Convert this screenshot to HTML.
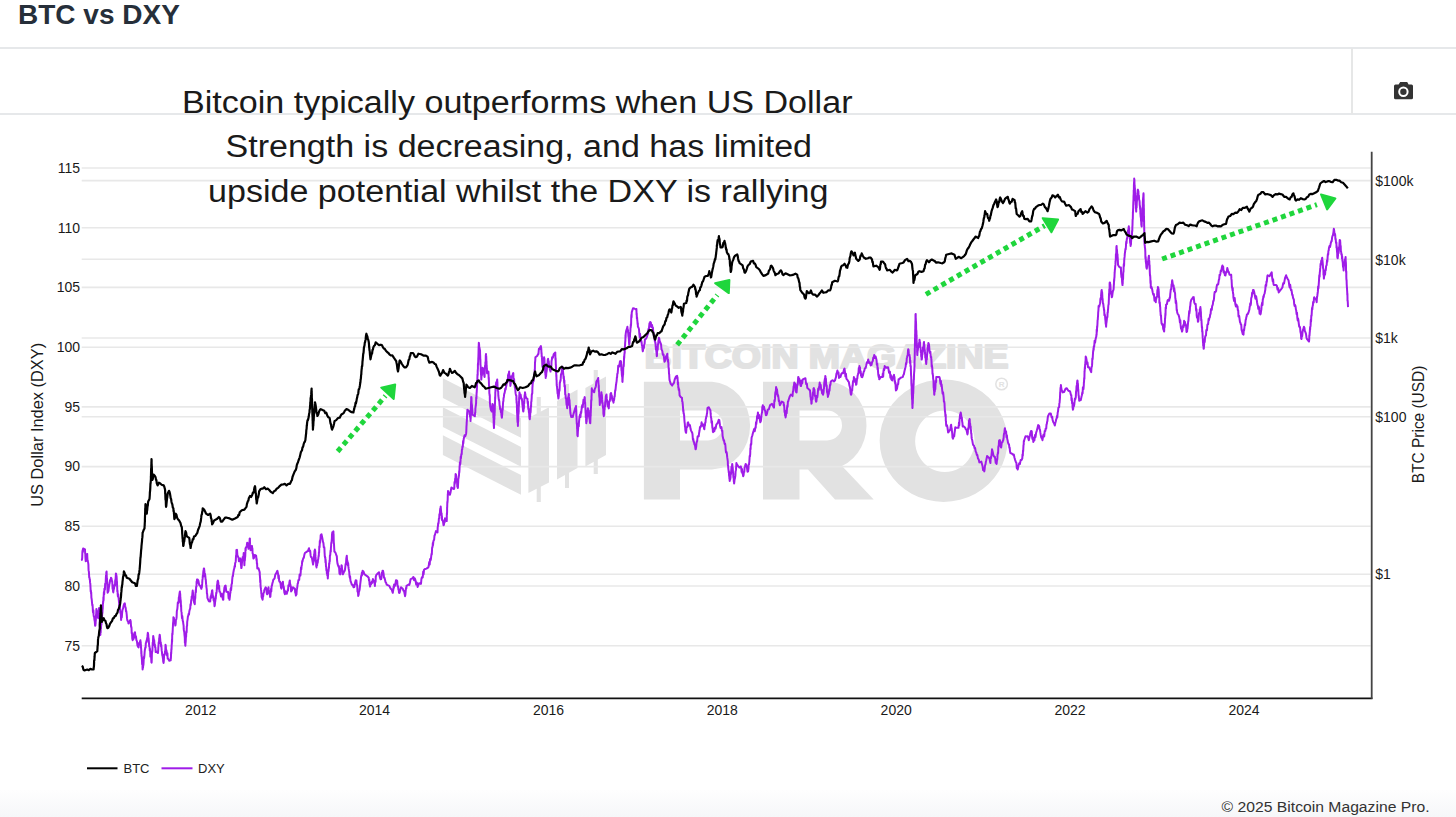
<!DOCTYPE html>
<html><head><meta charset="utf-8">
<style>
html,body{margin:0;padding:0;background:#fff;}
body{width:1456px;height:817px;position:relative;overflow:hidden;font-family:"Liberation Sans",sans-serif;}
.title{position:absolute;left:18px;top:-1.5px;font-size:28px;font-weight:bold;color:#262f3a;}
.hl{position:absolute;left:0;width:1456px;height:2px;background:#e6e8ea;}
.vl{position:absolute;width:1px;background:#e6e8ea;}
.foot{position:absolute;left:0;top:790px;width:1456px;height:27px;background:linear-gradient(#fefefe,#f6f7f9);}
.foot span{position:absolute;right:26px;top:-6px;font-size:16px;color:#333;}
.note{position:absolute;left:119px;top:83px;width:800px;text-align:center;font-size:31px;line-height:44.2px;color:#1a1a1a;}
svg{position:absolute;left:0;top:0;}
</style></head><body>
<div class="title">BTC vs DXY</div>
<div class="hl" style="top:47px"></div>
<div class="hl" style="top:113px"></div>
<div class="vl" style="left:1351px;top:48px;height:66px;width:2px;background:#e6e7e7"></div>
<div class="foot"></div>
<svg width="1456" height="817" viewBox="0 0 1456 817">
<path fill="#333" d="M1395.5 84.4 H1398.6 L1400.2 82 H1407.2 L1408.6 84.4 H1411.5 A1.5 1.5 0 0 1 1413 85.9 V97.8 A1.5 1.5 0 0 1 1411.5 99.3 H1395.5 A1.5 1.5 0 0 1 1394 97.8 V85.9 A1.5 1.5 0 0 1 1395.5 84.4 Z"/>
<circle cx="1403.4" cy="91.8" r="4.2" fill="none" stroke="#fff" stroke-width="2"/>
<g fill="#e2e2e2">
<polygon points="442.9,378.3 521,418 521,437.8 442.9,398.1"/>
<polygon points="442.9,407.2 521,446.9 521,466.7 442.9,427"/>
<polygon points="442.9,435.3 521,475 521,494.8 442.9,455.1"/>
<polygon points="528.4,417.9 549,407.2 549,482.4 528.4,493.1"/>
<rect x="536.7" y="397" width="4.1" height="105"/>
<polygon points="557,401 577.5,389.5 577.5,468 557,479.5"/>
<rect x="565" y="384" width="4" height="104"/>
<polygon points="585.4,388 606,376.5 606,455 585.4,466.5"/>
<rect x="593.7" y="370" width="4.1" height="104"/>
</g>
<text x="644.5" y="367.8" fill="#e2e2e2" stroke="#e2e2e2" stroke-width="2.2" stroke-linejoin="round" font-size="34" font-weight="bold" textLength="364" lengthAdjust="spacingAndGlyphs">BITCOIN MAGAZINE</text>
<g fill="#e2e2e2" fill-rule="evenodd">
<path d="M643.9 381.7 H712 A40 44 0 0 1 712 469.6 H680 V499.6 H643.9 Z M680 410.4 H708 A15 15 0 0 1 708 440.4 H680 Z"/>
<path d="M763 381.7 H831 A40 44 0 0 1 842 466 L873.7 499.6 H835 L808 469.6 H799.5 V499.6 H763 Z M799.5 410.4 H827 A15 15 0 0 1 827 440.4 H799.5 Z"/>
<path d="M943.6 379.5 A63.9 61.2 0 1 1 943.5 379.5 Z M944.8 410.4 A29.7 30.8 0 1 0 944.9 410.4 Z"/>
</g>
<circle cx="1001.6" cy="384" r="5.8" fill="none" stroke="#e2e2e2" stroke-width="1.5"/>
<text x="1001.6" y="387" fill="#e2e2e2" font-size="8" font-weight="bold" text-anchor="middle">R</text>

<g stroke="#e8e8e8" stroke-width="1.6"><line x1="81.7" y1="168.0" x2="1370.5" y2="168.0"/><line x1="81.7" y1="227.7" x2="1370.5" y2="227.7"/><line x1="81.7" y1="287.4" x2="1370.5" y2="287.4"/><line x1="81.7" y1="347.2" x2="1370.5" y2="347.2"/><line x1="81.7" y1="406.9" x2="1370.5" y2="406.9"/><line x1="81.7" y1="466.6" x2="1370.5" y2="466.6"/><line x1="81.7" y1="526.3" x2="1370.5" y2="526.3"/><line x1="81.7" y1="586.0" x2="1370.5" y2="586.0"/><line x1="81.7" y1="645.8" x2="1370.5" y2="645.8"/><line x1="81.7" y1="180.6" x2="1370.5" y2="180.6"/><line x1="81.7" y1="259.3" x2="1370.5" y2="259.3"/><line x1="81.7" y1="338.0" x2="1370.5" y2="338.0"/><line x1="81.7" y1="416.8" x2="1370.5" y2="416.8"/><line x1="81.7" y1="574.2" x2="1370.5" y2="574.2"/></g>
<path d="M81.7 559.4 L81.9 559.9 L82.2 558.0 L82.4 551.6 L82.7 549.9 L82.9 551.9 L83.1 548.4 L85.0 549.3 L85.1 552.2 L85.2 553.6 L85.3 553.4 L85.4 556.6 L85.5 558.4 L85.6 559.9 L85.7 561.2 L86.1 557.6 L86.4 557.2 L86.8 555.2 L87.2 553.9 L87.3 556.7 L87.5 559.7 L87.6 561.2 L87.8 560.7 L87.9 561.8 L88.1 562.6 L88.2 563.0 L88.4 564.6 L88.5 568.6 L88.6 570.4 L88.8 571.1 L89.0 573.1 L89.2 577.5 L89.4 577.3 L89.6 579.1 L89.8 579.1 L89.9 579.7 L90.1 582.9 L90.3 583.6 L90.5 587.3 L90.7 591.5 L90.9 590.6 L91.0 593.1 L91.2 592.2 L91.4 597.6 L91.6 598.7 L91.8 600.1 L92.0 602.6 L92.1 603.5 L92.3 605.3 L92.5 604.7 L92.7 607.1 L92.9 611.2 L93.1 612.7 L93.4 610.2 L93.6 614.9 L93.8 616.3 L94.1 616.5 L94.3 618.5 L94.5 620.0 L94.8 621.7 L95.1 625.8 L95.4 625.5 L95.5 623.8 L95.6 623.9 L95.7 619.8 L95.8 620.9 L95.9 619.3 L96.0 615.4 L96.1 614.3 L96.2 614.4 L96.3 611.8 L96.4 608.9 L96.7 610.7 L97.1 611.2 L97.5 613.5 L97.8 617.3 L98.2 618.1 L98.3 614.7 L98.5 616.9 L98.7 611.9 L98.8 613.5 L99.0 608.7 L99.1 608.0 L99.2 612.1 L99.3 612.4 L99.4 613.0 L99.4 614.8 L99.5 617.1 L99.6 618.5 L99.7 618.7 L99.8 619.8 L99.8 623.1 L99.9 626.9 L100.0 627.0 L100.1 625.8 L100.2 631.3 L100.2 632.5 L100.3 635.1 L100.4 634.7 L100.5 631.4 L100.7 632.6 L100.8 627.4 L101.0 628.8 L101.1 625.2 L101.3 623.3 L101.4 625.0 L101.6 619.4 L101.7 619.9 L101.9 618.1 L102.0 618.3 L102.2 613.4 L102.3 611.5 L102.4 613.3 L102.6 609.3 L102.7 609.1 L102.9 603.8 L103.0 603.9 L103.1 601.2 L103.3 602.1 L103.4 597.3 L103.6 600.2 L103.7 596.1 L103.9 592.0 L104.2 594.1 L104.4 588.8 L104.6 588.4 L104.9 589.7 L105.1 584.7 L105.3 583.2 L105.5 583.2 L105.7 582.4 L105.8 579.0 L106.0 575.4 L106.2 578.4 L106.3 572.3 L106.5 572.2 L106.6 571.5 L106.7 574.8 L106.8 577.9 L106.9 580.2 L107.0 578.6 L107.1 581.5 L107.2 581.6 L107.3 585.4 L107.4 588.8 L107.5 590.3 L107.6 592.8 L107.7 592.4 L108.1 591.9 L108.5 590.6 L108.8 588.0 L109.2 585.1 L109.7 583.1 L110.1 580.0 L110.6 580.4 L111.0 577.7 L111.5 578.6 L112.0 581.4 L112.2 581.2 L112.4 584.8 L112.6 588.9 L112.8 586.8 L113.0 591.0 L113.3 592.4 L113.6 590.0 L114.0 588.8 L114.4 585.1 L114.7 585.1 L115.0 585.6 L115.2 580.2 L115.5 580.1 L115.7 577.3 L115.9 573.4 L116.2 574.1 L116.3 576.0 L116.4 575.5 L116.6 576.7 L116.7 578.2 L116.8 580.6 L117.0 581.9 L117.1 586.3 L117.2 587.3 L117.3 591.4 L117.5 590.6 L117.7 594.5 L117.9 596.5 L118.2 594.2 L118.4 597.0 L118.6 597.7 L118.9 601.2 L119.1 603.0 L119.3 605.6 L119.5 606.8 L119.8 606.2 L120.0 608.7 L120.2 610.8 L120.4 612.8 L120.6 611.9 L120.8 613.9 L121.0 617.7 L121.1 620.0 L121.5 616.1 L121.8 617.5 L122.1 613.1 L122.4 610.5 L122.7 609.1 L123.0 608.9 L123.6 605.7 L124.2 603.8 L124.8 603.4 L125.1 605.4 L125.4 606.9 L125.7 608.0 L126.0 611.5 L126.3 611.1 L126.7 614.5 L127.0 618.4 L127.4 620.5 L127.8 621.2 L128.1 621.5 L128.5 623.6 L129.4 621.9 L130.3 620.0 L130.5 622.1 L130.7 621.0 L130.9 624.6 L131.1 626.8 L131.3 626.7 L131.5 627.9 L131.7 633.3 L131.9 632.7 L132.1 635.2 L132.3 639.0 L132.5 639.1 L132.7 640.2 L133.2 637.2 L133.6 639.0 L134.1 634.0 L134.5 632.8 L135.0 632.2 L135.5 637.5 L135.9 636.2 L136.4 640.2 L136.9 641.0 L137.5 645.6 L138.0 646.6 L138.6 647.5 L139.0 643.1 L139.5 643.6 L140.0 641.5 L140.4 640.2 L140.5 641.7 L140.7 641.9 L140.8 645.5 L140.9 644.5 L141.0 647.2 L141.2 649.3 L141.3 653.8 L141.4 651.0 L141.5 656.2 L141.6 654.9 L141.8 658.5 L141.9 659.2 L142.0 661.2 L142.1 664.3 L142.3 664.1 L142.4 664.3 L142.5 665.9 L142.6 669.5 L142.8 665.7 L143.0 668.0 L143.2 665.2 L143.4 665.2 L143.6 662.1 L143.8 657.0 L144.0 658.6 L144.2 657.5 L144.4 655.6 L144.6 652.7 L144.8 650.3 L145.0 649.3 L145.3 647.5 L145.6 647.6 L145.8 643.2 L146.1 642.9 L146.4 641.0 L146.7 641.8 L146.9 639.4 L147.2 638.4 L147.5 636.2 L147.8 632.8 L148.0 633.4 L148.2 634.7 L148.4 637.7 L148.6 638.1 L148.8 640.6 L149.0 643.5 L149.2 646.4 L149.4 646.3 L149.6 647.5 L149.8 650.8 L150.0 648.7 L150.2 651.7 L150.4 656.6 L150.6 653.8 L150.8 656.9 L151.0 656.7 L151.2 658.4 L151.4 662.2 L151.6 662.6 L151.7 661.5 L151.8 658.1 L151.9 653.8 L152.0 653.1 L152.1 651.2 L152.2 651.8 L152.4 650.3 L152.5 647.4 L152.6 646.3 L152.7 642.5 L152.8 643.1 L152.9 643.6 L153.0 641.0 L153.2 636.0 L153.3 636.5 L153.6 638.2 L153.9 640.9 L154.2 640.1 L154.5 645.1 L154.8 644.4 L155.1 647.3 L155.4 647.4 L155.7 652.1 L156.0 651.2 L157.9 653.0 L158.0 652.8 L158.2 650.1 L158.4 646.2 L158.5 646.0 L158.7 642.2 L158.9 643.5 L159.0 643.3 L159.2 638.0 L159.4 638.0 L159.5 636.2 L159.7 634.7 L159.9 635.8 L160.2 639.0 L160.4 641.7 L160.6 642.1 L160.8 642.5 L161.1 646.7 L161.3 645.0 L161.5 647.5 L161.7 650.4 L161.9 651.6 L162.1 653.8 L162.4 655.9 L162.6 654.2 L162.8 657.9 L163.0 658.4 L163.2 661.4 L163.4 662.2 L163.6 663.0 L163.9 659.6 L164.1 654.7 L164.3 655.4 L164.6 655.0 L164.8 654.3 L165.0 651.4 L165.3 650.6 L165.5 644.8 L165.8 645.7 L166.0 649.6 L166.3 650.1 L166.6 651.0 L166.9 654.2 L167.1 655.7 L167.4 653.2 L167.7 658.6 L168.0 658.5 L169.3 660.8 L170.7 660.4 L170.8 657.2 L170.9 658.4 L171.0 655.9 L171.1 652.3 L171.2 653.8 L171.4 648.7 L171.5 649.6 L171.6 647.0 L171.7 644.5 L171.8 644.5 L171.9 642.3 L172.0 639.3 L172.1 641.7 L172.2 635.4 L172.3 633.4 L172.4 634.3 L172.5 634.5 L172.6 631.9 L172.7 630.8 L172.8 627.8 L172.9 627.2 L173.0 623.8 L173.2 621.8 L173.3 621.4 L173.4 617.3 L173.5 618.1 L173.9 617.8 L174.4 623.1 L174.8 621.9 L175.3 625.5 L175.5 625.1 L175.7 623.6 L175.9 619.9 L176.2 619.6 L176.4 618.5 L176.6 617.2 L176.8 611.7 L177.0 610.2 L177.2 609.6 L177.4 608.3 L177.6 605.8 L177.8 602.6 L178.1 603.4 L178.3 602.0 L178.6 602.5 L178.8 597.6 L179.1 596.8 L179.4 594.3 L179.6 592.9 L179.9 591.5 L180.0 595.1 L180.2 593.8 L180.3 597.2 L180.4 598.0 L180.6 599.9 L180.7 603.5 L180.8 600.8 L180.9 606.3 L181.1 605.2 L181.2 608.7 L181.3 611.1 L181.5 612.0 L181.6 612.3 L181.7 614.5 L182.0 618.1 L182.3 616.0 L182.7 620.7 L183.0 621.2 L183.3 623.8 L183.6 625.5 L183.7 629.0 L183.9 630.4 L184.0 631.2 L184.2 631.2 L184.3 632.5 L184.5 635.3 L184.6 635.9 L184.8 637.8 L184.9 643.0 L185.1 640.3 L185.3 645.6 L185.4 645.7 L185.5 643.3 L185.7 641.6 L185.8 639.6 L185.9 636.7 L186.1 636.9 L186.2 633.7 L186.3 633.4 L186.5 630.9 L186.6 632.4 L186.7 630.8 L186.8 626.6 L187.0 625.9 L187.1 625.7 L187.2 621.8 L187.6 619.3 L187.9 616.5 L188.3 615.6 L188.6 613.8 L189.0 614.7 L189.3 611.5 L189.7 609.8 L190.0 608.9 L190.2 608.8 L190.5 604.2 L190.7 605.5 L191.0 603.0 L191.2 600.1 L191.5 600.6 L191.7 596.4 L192.0 597.6 L192.2 596.1 L192.5 592.3 L192.7 590.6 L193.0 593.2 L193.2 596.1 L193.4 596.7 L193.7 598.3 L193.9 600.5 L194.1 602.5 L194.4 603.2 L194.6 603.4 L194.8 604.2 L194.9 598.9 L195.1 599.0 L195.3 597.5 L195.4 594.2 L195.6 592.7 L195.8 589.8 L195.9 592.2 L196.1 587.3 L196.3 586.3 L196.5 586.7 L196.6 581.4 L196.8 583.7 L197.0 579.6 L197.7 579.5 L198.4 580.8 L199.2 585.1 L200.3 586.1 L201.4 588.8 L201.6 586.3 L201.8 587.6 L202.0 585.7 L202.2 583.4 L202.4 580.0 L202.6 578.9 L202.8 575.6 L203.0 577.0 L203.2 573.0 L203.4 570.8 L203.6 571.0 L203.8 568.6 L204.1 568.6 L204.4 571.3 L204.7 576.3 L205.0 573.8 L205.3 575.9 L205.6 579.6 L205.8 579.7 L205.9 581.6 L206.1 584.2 L206.3 584.9 L206.4 587.1 L206.6 588.3 L206.8 589.9 L206.9 593.5 L207.1 593.7 L207.3 595.6 L207.4 597.9 L208.8 601.2 L210.2 601.6 L210.5 597.5 L210.8 596.1 L211.1 597.9 L211.4 593.9 L211.7 593.9 L212.0 590.6 L212.3 590.3 L212.6 594.0 L212.9 597.3 L213.3 596.3 L213.6 600.1 L213.9 601.0 L214.2 601.5 L214.5 606.2 L214.8 605.3 L215.0 603.1 L215.1 602.0 L215.3 601.1 L215.5 598.0 L215.7 599.1 L215.9 596.2 L216.1 594.6 L216.2 592.7 L216.4 593.5 L216.6 591.9 L216.8 589.5 L217.0 585.9 L217.2 584.1 L217.4 583.1 L217.5 581.4 L217.9 580.6 L218.3 582.5 L218.7 588.7 L219.1 585.8 L219.5 591.6 L219.9 591.8 L220.3 592.4 L221.0 596.4 L221.7 593.9 L222.4 596.9 L223.0 599.8 L223.3 599.6 L223.5 593.8 L223.7 592.6 L224.0 592.1 L224.2 589.5 L224.4 587.6 L224.6 588.6 L224.9 586.0 L225.6 585.5 L226.3 591.7 L226.9 591.6 L227.6 592.4 L228.1 591.9 L228.6 598.2 L229.0 596.6 L229.5 599.8 L229.7 598.0 L229.9 596.7 L230.2 592.8 L230.4 593.0 L230.6 589.1 L230.8 588.1 L231.1 590.2 L231.3 588.0 L231.5 584.7 L231.8 583.9 L232.0 583.2 L232.2 579.6 L232.6 576.1 L232.9 576.3 L233.3 572.8 L233.6 571.2 L233.9 569.5 L234.3 568.4 L234.6 566.0 L235.0 566.7 L235.1 563.6 L235.3 562.8 L235.5 562.4 L235.6 562.0 L235.8 560.6 L235.9 558.0 L236.1 555.2 L236.3 555.7 L236.4 550.1 L236.6 550.2 L237.0 549.9 L237.4 555.3 L237.8 556.0 L238.2 557.1 L238.6 557.6 L238.9 561.2 L240.3 558.5 L240.5 559.4 L240.6 560.6 L240.8 562.9 L240.9 564.5 L241.1 565.9 L241.3 568.1 L241.5 568.0 L241.7 566.4 L241.9 563.5 L242.1 561.3 L242.4 559.8 L242.7 557.0 L243.0 557.8 L243.4 557.2 L243.7 553.0 L243.8 553.3 L243.9 557.6 L244.0 559.3 L244.1 560.9 L244.2 559.4 L244.3 563.8 L244.4 565.3 L244.5 562.2 L244.7 560.5 L244.8 560.9 L244.9 559.6 L245.0 557.9 L245.2 556.8 L245.3 555.0 L245.4 552.2 L245.5 548.4 L245.7 550.5 L245.8 547.5 L246.3 547.5 L246.7 546.0 L247.2 542.7 L247.6 545.2 L248.1 544.4 L248.5 548.8 L248.8 545.5 L249.0 543.4 L249.2 544.4 L249.5 542.2 L249.7 538.6 L249.9 538.5 L250.0 542.6 L250.1 544.4 L250.2 545.6 L250.3 545.0 L250.4 545.8 L250.5 547.0 L250.6 550.2 L251.3 549.8 L252.0 546.1 L252.2 548.9 L252.4 548.5 L252.6 553.5 L252.8 553.5 L253.0 554.5 L253.2 556.3 L253.4 558.5 L254.0 557.9 L254.7 555.0 L256.1 555.7 L256.3 557.2 L256.5 560.1 L256.7 559.0 L256.9 563.8 L257.1 563.4 L257.3 568.4 L257.5 568.1 L258.5 568.3 L259.5 571.5 L259.7 572.3 L259.8 575.1 L259.9 576.0 L260.1 578.4 L260.2 582.2 L260.4 580.1 L260.5 584.8 L260.6 586.1 L260.8 588.2 L260.9 588.2 L261.0 589.9 L261.2 591.0 L261.3 593.4 L261.5 594.0 L261.6 596.9 L262.6 599.7 L262.9 596.5 L263.2 596.3 L263.4 593.3 L263.7 593.1 L264.0 592.0 L264.3 590.1 L265.7 587.3 L266.1 588.0 L266.4 589.0 L266.7 593.0 L267.1 594.2 L267.4 594.3 L267.8 589.3 L268.1 589.6 L268.5 587.3 L268.7 589.7 L269.0 592.5 L269.3 593.1 L269.6 592.7 L269.8 593.8 L270.1 596.9 L270.4 596.8 L270.7 592.2 L271.0 588.9 L271.3 591.5 L271.6 586.2 L271.9 585.9 L272.4 583.2 L272.9 581.6 L273.4 579.5 L274.0 579.1 L274.6 578.4 L275.3 574.6 L276.0 573.6 L277.4 570.8 L277.7 572.3 L278.1 574.1 L278.4 578.1 L278.8 575.6 L279.1 580.4 L279.5 581.8 L280.0 581.6 L280.5 583.4 L281.0 587.5 L281.5 588.7 L281.9 586.3 L282.2 583.0 L282.5 584.0 L282.9 581.8 L283.2 585.7 L283.5 586.1 L283.8 587.1 L284.1 590.4 L284.4 592.8 L284.7 590.6 L284.9 594.2 L285.9 591.8 L286.8 593.8 L287.7 590.1 L288.0 590.7 L288.4 585.3 L288.7 586.3 L289.1 585.6 L289.4 582.5 L289.8 580.4 L290.0 583.3 L290.2 584.2 L290.4 584.6 L290.7 586.3 L290.9 587.3 L291.1 591.4 L292.0 590.2 L292.9 587.3 L294.6 588.7 L294.9 588.5 L295.2 592.7 L295.6 593.3 L295.9 595.5 L296.2 593.5 L296.5 594.5 L296.8 589.7 L297.1 588.4 L297.4 586.1 L297.7 583.5 L298.0 583.2 L298.4 580.1 L298.8 580.1 L299.2 579.9 L299.6 574.5 L300.1 574.9 L300.4 575.6 L300.7 572.5 L301.0 567.6 L301.3 569.3 L301.6 566.0 L301.9 564.9 L302.2 561.1 L302.5 561.6 L302.8 559.8 L303.3 558.2 L303.8 557.9 L304.3 555.1 L304.9 553.0 L306.9 551.6 L308.0 550.9 L309.0 548.2 L309.4 551.2 L309.8 550.3 L310.2 551.0 L310.6 555.2 L311.0 557.1 L311.6 557.0 L312.1 559.0 L312.6 561.8 L313.1 564.6 L313.3 563.2 L313.5 561.9 L313.7 560.4 L313.9 560.2 L314.1 554.2 L314.3 554.9 L314.5 550.7 L314.7 552.1 L314.9 549.5 L315.0 550.8 L315.2 550.9 L315.3 553.4 L315.5 556.9 L315.6 557.5 L315.8 561.6 L315.9 560.1 L316.1 561.7 L316.2 566.3 L316.4 566.3 L316.5 567.4 L316.8 563.7 L317.1 565.5 L317.4 561.7 L317.7 563.0 L318.0 559.8 L318.3 559.0 L318.6 555.7 L318.8 556.1 L318.9 552.3 L319.1 553.0 L319.3 546.4 L319.5 546.3 L319.6 547.2 L319.8 541.1 L320.0 542.9 L320.1 542.9 L320.3 539.7 L320.5 538.7 L320.7 535.1 L321.5 534.3 L322.3 537.9 L322.6 539.7 L322.9 541.6 L323.2 542.3 L323.5 543.8 L323.8 547.4 L324.1 547.5 L324.3 547.3 L324.4 548.3 L324.6 552.8 L324.8 556.3 L325.0 557.2 L325.1 558.0 L325.3 557.6 L325.5 562.4 L325.6 559.5 L325.8 562.2 L326.0 566.6 L326.2 566.7 L326.4 570.4 L326.6 569.5 L326.9 573.8 L327.1 571.4 L327.3 575.5 L327.6 574.5 L327.8 578.4 L328.0 575.4 L328.1 573.6 L328.3 571.0 L328.5 571.5 L328.6 570.4 L328.8 567.6 L329.0 567.9 L329.1 563.2 L329.3 564.0 L329.5 562.5 L329.6 560.2 L329.8 561.3 L329.9 555.6 L330.1 555.6 L330.3 554.3 L330.4 552.4 L330.6 550.3 L330.8 551.7 L330.9 548.0 L331.1 546.0 L331.2 543.9 L331.4 542.2 L331.5 543.2 L331.7 540.7 L331.9 538.2 L332.0 534.0 L332.2 534.5 L332.3 532.4 L333.3 531.7 L333.4 531.4 L333.5 534.2 L333.6 534.2 L333.7 539.4 L333.8 542.5 L333.8 542.4 L333.9 543.7 L334.0 543.7 L334.1 546.3 L334.2 548.1 L334.3 549.5 L334.4 551.6 L335.4 552.5 L336.5 555.7 L336.8 556.1 L337.1 560.7 L337.5 563.6 L337.8 564.7 L338.2 565.5 L338.5 566.7 L338.9 566.0 L339.2 569.1 L339.5 573.6 L339.9 573.6 L340.2 574.4 L340.5 570.5 L340.9 569.0 L341.2 567.9 L341.5 565.3 L341.8 565.8 L342.1 570.0 L342.4 570.0 L342.6 574.3 L342.9 574.3 L343.8 572.3 L344.7 570.8 L344.9 570.0 L345.2 567.8 L345.4 566.0 L345.6 563.9 L345.8 564.8 L346.1 562.1 L346.3 558.7 L346.5 557.4 L346.8 555.7 L347.0 559.6 L347.3 560.7 L347.6 562.0 L347.9 565.4 L348.1 562.9 L348.4 566.7 L348.7 568.9 L349.0 570.7 L349.2 571.5 L349.5 575.8 L349.8 577.5 L350.1 576.2 L350.3 579.1 L350.6 581.5 L350.9 581.8 L351.8 584.7 L352.7 584.8 L353.6 587.3 L354.3 587.1 L355.0 583.1 L355.7 580.3 L356.4 580.4 L356.6 583.0 L356.8 584.6 L357.1 585.0 L357.3 587.1 L357.5 591.4 L357.7 592.1 L358.0 591.7 L358.2 596.0 L358.4 595.5 L358.7 594.2 L358.9 591.6 L359.2 591.2 L359.5 590.2 L359.7 589.0 L360.0 586.1 L360.2 584.4 L360.5 581.8 L360.8 579.5 L361.2 575.8 L361.5 576.1 L361.9 572.5 L362.2 575.0 L362.6 570.8 L363.5 571.5 L364.4 574.1 L365.3 574.9 L367.4 576.3 L368.7 577.7 L369.0 580.7 L369.3 579.6 L369.6 584.8 L369.8 583.9 L370.1 586.6 L370.7 582.9 L371.2 584.1 L371.8 581.6 L372.3 582.8 L372.9 579.1 L373.4 580.5 L373.9 580.4 L374.4 581.7 L374.9 585.9 L375.1 581.7 L375.4 582.2 L375.6 581.6 L375.8 576.3 L376.1 575.9 L376.3 574.9 L377.7 573.5 L379.0 572.2 L379.6 576.0 L380.1 578.1 L380.6 579.3 L381.1 579.1 L381.4 578.1 L381.6 576.2 L381.9 572.7 L382.2 573.1 L382.5 570.8 L383.0 570.8 L383.5 573.2 L384.0 577.7 L384.5 577.7 L385.0 579.8 L385.6 582.3 L386.1 582.7 L386.6 584.6 L389.3 585.9 L390.7 588.7 L391.7 589.6 L392.8 592.8 L393.0 591.2 L393.3 589.9 L393.6 586.5 L393.9 588.0 L394.1 584.6 L395.1 585.7 L396.0 580.2 L396.9 580.4 L397.2 580.9 L397.5 585.6 L397.8 586.9 L398.1 586.1 L398.4 589.7 L398.7 589.7 L399.0 592.8 L399.6 592.9 L400.3 589.6 L401.0 587.3 L402.8 588.7 L403.4 590.6 L404.0 590.7 L404.6 593.9 L405.1 596.2 L405.4 594.4 L405.6 592.1 L405.8 589.4 L406.1 587.8 L406.3 588.7 L406.5 585.9 L408.6 584.6 L409.3 584.9 L409.9 582.7 L410.6 579.1 L412.0 578.6 L413.4 577.0 L414.1 580.2 L414.8 578.4 L415.5 580.4 L416.2 584.6 L416.9 582.6 L417.6 586.9 L419.1 583.2 L420.6 583.9 L421.0 583.8 L421.4 579.1 L421.9 577.4 L422.3 576.9 L422.7 577.5 L423.2 571.6 L423.6 574.5 L424.0 569.9 L424.5 569.3 L426.4 568.6 L428.4 567.3 L428.8 565.5 L429.2 562.0 L429.7 564.6 L430.1 558.9 L430.5 560.5 L430.9 559.2 L431.3 555.5 L431.6 553.6 L431.8 554.5 L432.1 548.1 L432.3 546.9 L432.6 546.9 L432.8 543.1 L433.0 545.2 L433.3 541.8 L433.7 540.3 L434.1 540.0 L434.5 535.6 L434.9 535.0 L436.0 531.1 L437.2 532.0 L437.5 532.4 L437.7 527.1 L437.9 526.5 L438.2 523.2 L438.4 523.9 L438.7 521.6 L438.9 518.5 L439.2 518.3 L439.4 514.3 L439.6 514.1 L439.8 514.8 L440.1 509.8 L440.3 508.5 L440.5 508.9 L440.7 506.6 L440.9 509.0 L441.1 511.6 L441.2 512.5 L441.4 515.3 L441.6 513.4 L441.8 519.1 L441.9 516.1 L442.1 520.3 L442.6 519.9 L443.0 521.5 L443.5 525.2 L443.9 524.9 L444.3 521.8 L444.7 522.2 L445.0 518.3 L446.6 520.3 L446.7 521.1 L446.8 519.4 L446.8 516.0 L446.9 513.0 L447.0 514.5 L447.1 511.7 L447.1 507.3 L447.2 507.5 L447.3 503.1 L447.4 501.5 L447.4 503.1 L447.5 501.9 L447.6 501.0 L447.7 498.8 L447.8 493.9 L447.8 495.4 L447.9 495.1 L448.0 490.9 L449.0 493.8 L449.9 494.8 L450.4 493.0 L450.9 490.3 L451.4 487.4 L451.9 488.0 L453.9 489.0 L454.1 488.0 L454.3 488.1 L454.5 482.1 L454.7 484.1 L454.9 482.9 L455.2 478.4 L455.4 479.3 L455.6 474.1 L455.8 474.3 L456.1 474.9 L456.3 478.0 L456.5 481.4 L456.8 481.3 L457.0 480.7 L457.3 486.8 L457.5 486.6 L457.8 488.0 L457.9 487.8 L458.1 483.4 L458.2 482.3 L458.3 479.4 L458.5 478.3 L458.6 478.0 L458.8 476.3 L458.9 475.9 L459.0 475.2 L459.2 471.0 L459.3 472.5 L459.5 469.5 L459.6 466.3 L459.7 465.5 L460.0 462.2 L460.2 464.7 L460.5 461.5 L460.7 456.7 L460.9 458.5 L461.2 455.3 L461.4 453.9 L461.7 454.1 L461.9 449.7 L462.2 449.6 L462.4 446.8 L462.6 446.6 L462.8 446.9 L463.1 441.0 L463.3 443.3 L463.5 441.2 L463.8 438.4 L464.6 435.2 L465.3 436.1 L466.1 433.7 L466.2 432.6 L466.3 431.3 L466.4 428.7 L466.5 425.9 L466.6 425.1 L466.7 422.1 L466.8 421.5 L466.9 419.5 L467.0 416.3 L467.1 415.2 L467.1 414.1 L467.2 412.6 L467.3 411.8 L467.4 409.8 L469.3 411.4 L469.5 414.3 L469.8 413.3 L470.0 416.4 L470.2 416.9 L470.4 417.9 L470.6 420.9 L470.6 417.3 L470.7 419.9 L470.7 418.1 L470.8 415.8 L470.8 410.7 L470.9 408.9 L470.9 406.9 L471.0 406.2 L471.0 405.2 L471.1 401.3 L471.1 401.8 L471.1 401.5 L471.2 400.5 L471.2 397.1 L471.4 397.2 L471.5 398.0 L471.6 403.8 L471.7 403.4 L471.9 404.8 L472.0 405.8 L472.1 408.1 L472.3 409.8 L472.4 411.5 L472.5 414.6 L474.9 416.2 L475.0 413.0 L475.2 412.8 L475.3 412.6 L475.4 408.3 L475.6 407.1 L475.7 405.7 L475.8 405.9 L476.0 403.7 L476.1 403.2 L476.2 397.2 L476.4 398.8 L476.5 395.5 L476.6 392.7 L476.7 392.4 L476.8 390.4 L476.9 389.0 L477.0 385.9 L477.0 382.9 L477.1 380.8 L477.2 383.9 L477.3 382.0 L477.4 378.0 L477.5 374.4 L477.6 374.8 L477.7 374.9 L477.7 371.4 L477.8 369.6 L477.9 368.8 L477.9 364.6 L478.0 363.3 L478.1 364.7 L478.1 362.6 L478.2 362.2 L478.3 357.7 L478.3 358.8 L478.4 356.7 L478.5 353.0 L478.5 353.4 L478.6 347.9 L478.7 345.7 L478.7 347.9 L478.8 342.8 L478.9 343.0 L479.1 344.6 L479.2 347.4 L479.4 348.7 L479.6 347.9 L479.8 352.4 L480.0 350.1 L480.1 354.1 L480.2 356.1 L480.3 359.6 L480.4 359.4 L480.4 359.9 L480.5 365.2 L480.6 365.5 L480.7 367.5 L480.7 369.7 L480.8 371.6 L480.9 371.5 L481.0 374.5 L481.0 374.5 L481.1 374.9 L481.2 376.7 L481.3 379.6 L481.5 376.7 L481.7 373.9 L481.9 375.4 L482.2 372.7 L482.4 373.7 L482.6 367.7 L482.9 368.4 L483.2 371.5 L483.5 370.0 L483.8 372.3 L484.1 373.7 L484.4 376.4 L484.6 377.0 L484.7 373.7 L484.8 371.1 L484.9 367.9 L485.1 365.5 L485.2 365.4 L485.3 366.8 L485.4 362.4 L485.5 361.9 L485.7 361.2 L485.8 355.2 L485.9 354.9 L486.0 354.1 L486.1 355.4 L486.2 356.1 L486.3 358.7 L486.4 362.0 L486.5 360.9 L486.6 365.5 L486.7 365.2 L486.8 368.8 L486.9 368.0 L487.0 373.0 L487.1 373.2 L488.4 371.6 L488.5 372.9 L488.6 376.7 L488.7 379.1 L488.8 378.7 L488.8 377.5 L488.9 381.0 L489.0 385.8 L489.1 385.8 L489.2 388.0 L489.3 388.2 L489.3 392.3 L489.4 393.8 L489.5 394.0 L489.6 395.5 L489.7 394.7 L489.8 395.8 L489.8 398.5 L489.9 402.9 L490.0 403.4 L490.3 406.8 L490.6 408.0 L491.0 410.2 L491.3 407.3 L491.6 411.4 L491.9 407.3 L492.2 406.9 L492.6 404.1 L492.9 405.0 L493.0 407.1 L493.0 410.5 L493.1 412.0 L493.2 409.6 L493.3 414.1 L493.4 415.8 L493.4 417.4 L493.5 417.7 L493.6 418.5 L493.7 423.5 L493.8 425.2 L493.8 425.9 L493.9 426.7 L494.0 428.1 L494.1 424.0 L494.1 423.7 L494.2 421.9 L494.2 420.3 L494.3 418.5 L494.4 419.2 L494.4 417.7 L494.5 413.4 L494.6 415.6 L494.6 409.3 L494.7 412.6 L494.8 409.0 L494.8 407.7 L494.9 404.2 L494.9 404.7 L495.0 404.1 L495.1 399.0 L495.1 397.0 L495.2 398.7 L495.3 394.3 L495.3 391.9 L495.4 392.3 L495.5 389.1 L495.5 387.6 L495.6 387.5 L495.9 384.8 L496.2 382.2 L496.5 384.4 L496.9 381.5 L497.2 379.6 L497.3 382.1 L497.4 382.0 L497.5 386.3 L497.7 389.0 L497.8 391.0 L497.9 387.8 L498.0 390.9 L498.2 391.6 L498.3 395.5 L498.5 396.9 L498.8 399.5 L499.1 400.8 L499.3 401.1 L499.6 405.8 L499.8 405.7 L500.1 409.2 L500.4 408.2 L500.6 409.4 L500.9 412.1 L501.2 410.9 L501.4 414.7 L501.7 416.9 L501.9 417.7 L502.1 414.6 L502.2 414.9 L502.4 410.6 L502.5 410.6 L502.7 409.6 L502.8 407.2 L503.0 403.8 L503.1 402.2 L503.2 401.5 L503.4 401.2 L503.5 398.6 L503.9 396.7 L504.2 393.9 L504.6 393.0 L504.9 391.3 L505.2 388.8 L505.6 389.6 L505.9 387.5 L506.3 385.8 L506.7 383.4 L507.1 380.1 L507.5 381.1 L507.8 381.7 L508.0 375.6 L508.3 374.4 L508.6 373.7 L508.8 374.7 L509.1 371.6 L509.3 375.7 L509.4 376.5 L509.6 375.4 L509.7 380.5 L509.9 378.1 L510.1 380.3 L510.2 382.1 L510.4 385.9 L510.6 384.7 L510.8 383.2 L510.9 381.8 L511.1 381.9 L511.3 379.3 L511.5 376.4 L512.3 376.0 L513.1 373.2 L513.3 373.1 L513.5 378.5 L513.7 380.1 L513.9 381.3 L514.1 379.0 L514.3 383.8 L514.5 384.4 L514.7 385.9 L514.9 387.7 L515.2 387.9 L515.5 392.1 L515.7 393.9 L516.0 395.3 L516.3 395.5 L516.4 396.1 L516.4 400.1 L516.5 398.4 L516.6 403.1 L516.7 401.4 L516.8 403.0 L516.9 405.2 L517.0 409.7 L517.1 413.1 L517.2 412.1 L517.2 414.7 L517.3 416.1 L517.4 419.1 L517.5 421.4 L517.6 422.3 L517.7 421.5 L517.8 421.8 L517.9 425.7 L517.9 426.1 L518.0 421.2 L518.1 422.0 L518.2 420.9 L518.3 415.6 L518.3 414.1 L518.4 413.6 L518.5 414.1 L518.6 412.5 L518.7 411.6 L518.7 406.1 L518.8 406.3 L518.9 405.9 L519.0 401.7 L519.1 401.1 L519.1 397.5 L519.2 399.1 L519.3 395.3 L519.4 393.9 L519.4 392.3 L520.0 394.7 L520.6 394.5 L521.2 398.7 L521.8 398.6 L522.0 400.0 L522.2 401.5 L522.4 404.6 L522.6 405.9 L522.8 407.7 L523.0 410.1 L523.2 411.4 L523.4 411.4 L523.6 409.2 L523.7 408.7 L523.9 408.1 L524.0 402.1 L524.2 403.5 L524.3 401.1 L524.4 398.7 L524.6 395.5 L524.7 394.7 L524.9 395.3 L525.0 392.3 L525.6 395.9 L526.2 398.0 L526.8 398.4 L527.4 398.6 L527.6 402.2 L527.8 403.5 L528.0 401.7 L528.1 406.0 L528.3 408.5 L528.5 409.5 L528.7 408.6 L528.9 412.4 L529.1 412.4 L529.2 414.2 L529.4 417.4 L529.6 418.7 L529.8 419.3 L530.0 415.7 L530.1 416.6 L530.3 411.8 L530.4 410.8 L530.6 412.3 L530.7 411.0 L530.9 405.8 L531.1 406.7 L531.2 401.9 L531.4 401.8 L531.5 400.1 L531.7 397.6 L531.8 394.5 L532.0 394.5 L532.1 393.4 L532.3 393.2 L532.4 387.6 L532.5 386.8 L532.7 383.6 L532.8 383.0 L533.0 382.7 L533.2 379.9 L533.5 381.2 L533.8 380.2 L534.0 374.9 L534.3 374.7 L534.6 373.2 L534.7 371.5 L534.7 369.6 L534.8 370.3 L534.9 368.5 L535.0 361.9 L535.1 362.1 L535.2 361.0 L535.3 359.8 L535.4 357.3 L537.4 355.7 L537.9 354.3 L538.4 354.2 L538.9 348.8 L539.3 349.3 L540.1 347.5 L540.9 346.1 L541.1 349.6 L541.2 347.9 L541.3 349.6 L541.5 353.6 L541.6 352.9 L541.7 356.7 L541.9 356.3 L542.0 358.3 L542.1 360.8 L542.3 364.8 L542.4 365.7 L542.5 366.8 L542.8 365.8 L543.1 364.3 L543.3 361.5 L543.6 362.9 L543.8 359.4 L544.1 357.3 L544.2 359.7 L544.4 358.5 L544.5 361.1 L544.6 364.6 L544.8 368.3 L544.9 368.7 L545.0 367.0 L545.2 372.7 L545.3 371.3 L545.4 375.0 L545.6 374.6 L545.7 378.0 L545.9 374.1 L546.1 376.2 L546.3 373.1 L546.5 372.1 L546.7 371.1 L546.9 368.9 L547.1 366.4 L547.3 364.3 L547.5 363.8 L547.7 360.7 L547.9 359.2 L548.1 358.9 L548.4 362.1 L548.7 361.2 L549.0 364.8 L549.3 366.2 L549.6 366.6 L549.9 369.9 L550.2 369.1 L550.5 371.6 L550.7 367.4 L550.8 370.2 L551.0 368.1 L551.2 366.5 L551.4 365.8 L551.5 361.6 L551.7 360.1 L551.9 359.5 L552.1 357.3 L552.9 357.6 L553.7 354.1 L555.3 352.5 L555.3 353.0 L555.4 357.2 L555.5 359.9 L555.6 357.9 L555.6 358.3 L555.7 360.8 L555.8 365.0 L555.9 364.4 L556.0 369.9 L556.0 367.1 L556.1 372.9 L556.2 371.8 L556.3 376.4 L556.4 375.1 L556.4 375.5 L556.5 380.1 L556.6 379.9 L556.7 384.9 L556.8 385.9 L556.8 385.9 L557.0 386.2 L557.2 389.0 L557.4 391.0 L557.6 393.7 L557.8 392.6 L558.0 395.8 L558.2 397.2 L558.4 398.6 L558.6 397.3 L558.8 395.4 L559.0 393.0 L559.1 391.0 L559.3 389.3 L559.5 390.6 L559.7 386.4 L559.8 382.5 L560.0 382.7 L560.3 380.6 L560.5 380.9 L560.7 378.9 L561.0 374.2 L561.2 374.3 L561.5 372.9 L561.7 373.4 L561.9 368.8 L562.2 370.6 L562.4 366.8 L562.6 370.0 L562.8 367.5 L563.0 371.6 L563.2 373.4 L563.4 375.5 L563.6 378.4 L563.8 376.4 L564.0 379.6 L564.2 383.0 L564.4 380.5 L564.5 386.6 L564.7 385.4 L564.9 385.9 L565.1 391.8 L565.2 394.4 L565.4 394.5 L565.6 395.5 L565.8 398.5 L566.0 398.1 L566.2 398.9 L566.4 402.7 L566.6 405.0 L566.8 403.8 L567.0 406.0 L567.2 408.2 L567.4 405.4 L567.5 403.8 L567.7 405.3 L567.9 399.3 L568.1 397.8 L568.2 397.0 L568.4 398.5 L568.6 395.8 L568.8 393.9 L568.9 396.9 L569.1 398.4 L569.2 401.1 L569.4 401.3 L569.5 400.1 L569.6 402.2 L569.8 405.6 L569.9 405.8 L570.1 408.5 L570.2 410.1 L570.4 413.0 L571.2 417.1 L572.0 416.2 L572.8 417.0 L573.5 413.9 L574.3 411.4 L574.9 409.4 L575.4 407.7 L575.9 406.6 L576.0 406.1 L576.1 409.7 L576.2 409.8 L576.3 413.5 L576.4 416.7 L576.5 416.2 L576.6 419.5 L576.7 421.7 L576.8 423.9 L576.9 423.1 L577.0 423.8 L577.1 428.8 L577.2 428.5 L577.2 429.0 L577.3 432.8 L577.4 435.4 L577.5 435.2 L577.7 436.2 L577.9 431.4 L578.1 429.2 L578.2 427.6 L578.4 426.2 L578.6 424.2 L578.8 426.3 L578.9 423.2 L579.1 420.9 L579.5 417.0 L579.8 415.6 L580.1 414.5 L580.5 417.0 L580.8 412.1 L581.2 413.0 L581.5 409.8 L581.9 406.8 L582.3 405.0 L582.7 407.3 L583.1 403.4 L583.5 399.6 L583.9 400.2 L584.3 398.8 L584.7 397.1 L584.8 397.9 L584.9 401.7 L585.0 403.8 L585.1 402.2 L585.2 404.2 L585.3 406.8 L585.4 408.4 L585.5 410.9 L585.6 413.3 L585.7 412.6 L585.8 417.4 L585.9 416.5 L586.0 415.9 L586.1 419.6 L586.2 421.8 L586.3 423.3 L586.5 420.0 L586.6 421.9 L586.8 418.8 L587.0 416.7 L587.2 413.8 L587.3 411.3 L587.5 410.4 L587.7 410.6 L587.9 408.2 L588.1 410.7 L588.4 412.3 L588.7 410.5 L588.9 416.0 L589.2 417.2 L589.5 418.7 L589.7 419.5 L590.0 422.8 L590.3 422.5 L590.3 423.2 L590.4 419.6 L590.5 417.2 L590.6 416.0 L590.7 415.7 L590.7 413.4 L590.8 412.3 L590.9 408.2 L591.0 408.0 L591.1 404.4 L591.1 404.5 L591.2 399.9 L591.3 401.0 L591.4 400.3 L591.5 399.6 L591.5 395.7 L591.6 396.1 L591.7 390.9 L591.8 388.2 L591.8 389.1 L593.0 391.0 L594.2 392.3 L594.6 389.9 L594.9 388.6 L595.3 388.0 L595.6 387.2 L595.9 386.2 L596.3 381.8 L596.6 381.1 L597.4 380.0 L598.2 378.0 L598.3 380.3 L598.4 382.3 L598.5 383.5 L598.6 384.5 L598.7 388.0 L598.8 385.6 L598.9 391.3 L599.0 389.8 L599.1 391.5 L599.2 395.8 L599.3 396.3 L599.4 397.4 L599.5 397.7 L599.6 399.3 L599.7 402.1 L599.8 405.0 L600.0 401.3 L600.2 402.9 L600.4 398.7 L600.6 398.0 L600.8 396.6 L601.0 396.5 L601.2 395.5 L601.4 392.3 L601.6 394.7 L601.7 394.2 L601.9 395.5 L602.1 399.4 L602.2 400.1 L602.4 403.7 L602.6 402.7 L602.8 406.9 L602.9 406.9 L603.1 408.2 L603.3 409.4 L603.4 414.1 L603.6 414.5 L603.8 416.2 L604.0 414.8 L604.1 414.7 L604.3 408.9 L604.5 410.0 L604.7 407.3 L604.9 405.2 L605.0 406.7 L605.2 402.0 L605.4 401.3 L605.6 399.8 L605.8 396.7 L605.9 396.0 L606.1 395.4 L606.5 394.5 L606.8 398.9 L607.2 401.3 L607.5 405.0 L607.9 406.5 L608.2 405.0 L608.6 407.6 L608.8 408.4 L609.1 402.3 L609.4 400.9 L609.7 401.2 L609.9 400.4 L610.2 398.3 L610.5 393.8 L610.7 394.1 L611.0 392.9 L611.4 394.5 L611.8 395.6 L612.2 399.2 L612.6 400.7 L613.1 398.9 L613.5 402.7 L613.7 400.8 L614.0 400.3 L614.2 399.1 L614.4 396.7 L614.7 396.6 L614.9 393.7 L615.2 390.2 L615.4 390.7 L615.7 387.9 L615.9 385.6 L616.1 384.5 L616.3 382.8 L616.5 382.0 L616.7 380.1 L616.9 377.2 L617.1 377.3 L617.3 373.7 L617.5 373.8 L617.7 373.0 L618.0 369.4 L618.2 365.8 L618.4 366.0 L619.2 366.5 L620.0 361.2 L620.8 361.1 L620.9 361.2 L621.1 361.9 L621.2 365.5 L621.3 367.0 L621.5 370.8 L621.6 369.0 L621.7 371.7 L621.9 375.3 L622.0 373.0 L622.1 376.6 L622.3 376.9 L622.4 381.7 L622.5 381.9 L622.6 379.2 L622.8 376.7 L622.9 374.9 L623.0 373.8 L623.1 374.7 L623.2 370.0 L623.3 367.9 L623.4 367.3 L623.6 364.6 L623.7 366.5 L623.8 365.0 L623.9 362.2 L624.0 359.5 L624.1 356.3 L624.2 358.2 L624.4 354.1 L624.5 353.8 L624.6 352.4 L624.7 353.0 L624.8 347.5 L624.9 348.2 L625.0 345.3 L625.1 344.1 L625.2 341.8 L625.3 341.7 L625.4 339.2 L625.5 335.0 L625.6 337.5 L625.7 334.2 L626.1 331.0 L626.6 329.7 L627.0 328.6 L627.4 326.8 L627.6 329.0 L627.8 331.6 L628.0 330.0 L628.2 333.1 L628.4 336.0 L628.6 337.0 L628.8 337.5 L629.0 342.1 L629.2 344.7 L629.4 344.0 L629.5 343.0 L629.6 340.8 L629.8 337.1 L629.9 337.1 L630.0 337.1 L630.1 333.0 L630.3 331.9 L630.4 330.3 L630.5 327.9 L630.7 327.8 L630.8 324.5 L630.9 326.1 L631.1 323.9 L631.2 319.5 L631.3 316.6 L631.4 314.7 L631.6 317.1 L631.7 313.4 L631.8 312.1 L633.0 308.3 L634.3 308.5 L636.2 309.7 L636.4 309.0 L636.6 314.6 L636.7 313.3 L636.9 318.7 L637.1 317.5 L637.3 320.6 L637.4 320.9 L637.6 324.2 L637.8 323.2 L637.9 326.8 L638.3 327.2 L638.6 328.0 L639.0 329.3 L639.3 333.4 L639.7 337.2 L640.0 333.7 L640.4 337.8 L640.7 341.5 L641.0 340.1 L641.3 341.1 L641.6 342.1 L641.9 345.5 L642.2 345.8 L642.5 349.6 L642.8 351.3 L643.2 349.3 L643.5 346.1 L643.9 348.1 L644.2 344.7 L644.6 343.9 L644.9 339.5 L645.3 339.1 L646.1 338.6 L646.9 336.8 L647.7 334.2 L648.1 333.8 L648.4 329.0 L648.8 331.3 L649.1 326.9 L649.5 323.2 L649.8 325.9 L650.2 321.9 L650.8 322.4 L651.4 327.0 L652.0 325.0 L652.6 328.0 L652.9 327.5 L653.2 331.5 L653.5 333.3 L653.9 335.7 L654.2 337.2 L654.5 337.4 L654.8 341.2 L655.1 341.5 L655.3 343.2 L655.5 342.9 L655.7 346.8 L655.8 347.3 L656.0 349.9 L656.2 349.5 L656.4 351.6 L656.6 353.3 L656.8 356.2 L657.0 355.4 L657.1 350.4 L657.3 350.8 L657.5 349.0 L657.7 349.8 L657.9 344.2 L658.0 344.6 L658.2 344.5 L658.4 340.7 L658.6 341.9 L658.8 337.8 L659.2 338.2 L659.7 341.2 L660.1 341.9 L660.6 343.4 L661.0 344.0 L661.5 349.4 L662.0 350.4 L662.4 351.3 L662.8 354.7 L663.2 354.4 L663.6 354.5 L664.1 358.7 L664.5 361.7 L664.9 361.1 L665.5 359.6 L666.1 356.2 L666.7 355.7 L667.3 353.8 L667.5 357.3 L667.6 358.8 L667.8 359.5 L667.9 361.7 L668.1 359.7 L668.2 362.0 L668.4 363.0 L668.5 367.0 L668.7 368.8 L668.8 368.1 L669.0 373.9 L669.2 374.2 L669.3 376.8 L669.5 379.7 L669.6 380.4 L669.8 380.7 L670.6 383.6 L671.4 384.7 L672.2 385.6 L672.8 384.2 L673.4 383.9 L674.1 382.5 L674.7 379.5 L675.9 376.6 L677.1 375.8 L677.3 379.0 L677.5 377.2 L677.7 380.8 L677.9 384.5 L678.1 382.5 L678.3 387.6 L678.5 387.1 L678.7 390.0 L678.9 388.7 L679.2 389.8 L679.4 392.4 L679.6 395.4 L680.8 397.1 L682.0 397.8 L682.2 401.5 L682.4 401.4 L682.5 402.8 L682.7 403.7 L682.9 406.0 L683.1 408.7 L683.2 411.1 L683.4 410.1 L683.6 413.4 L683.8 413.3 L683.9 414.5 L684.1 415.1 L684.3 418.5 L684.5 421.2 L684.6 422.3 L684.8 423.7 L685.0 427.0 L685.2 426.9 L685.3 429.8 L685.5 430.7 L685.7 432.1 L686.1 432.8 L686.5 428.0 L686.9 426.9 L687.3 427.0 L687.7 422.9 L688.1 422.3 L688.7 425.5 L689.4 424.6 L690.0 425.4 L690.6 429.1 L691.2 430.8 L691.8 432.1 L692.2 432.8 L692.5 434.3 L692.9 439.8 L693.3 439.0 L693.6 441.7 L694.0 442.0 L694.4 444.3 L694.7 444.7 L695.1 445.8 L695.5 449.2 L695.8 449.2 L696.2 446.7 L696.5 443.0 L696.9 441.7 L697.2 440.8 L697.6 436.5 L697.9 437.0 L698.3 435.9 L698.7 436.3 L699.1 433.0 L699.6 430.3 L700.0 426.9 L700.4 427.4 L700.8 426.0 L701.2 425.0 L701.6 422.3 L702.2 425.8 L702.8 424.2 L703.4 424.8 L704.0 428.4 L704.3 429.3 L704.6 425.4 L704.9 425.6 L705.2 422.6 L705.5 422.5 L705.7 419.3 L706.0 418.4 L706.3 416.3 L706.6 416.4 L706.9 413.7 L707.1 413.3 L707.4 408.8 L707.7 407.6 L708.9 407.3 L710.2 410.1 L710.4 410.2 L710.6 413.2 L710.8 415.4 L711.1 417.8 L711.3 418.3 L711.5 422.6 L711.7 421.4 L712.0 421.1 L712.2 425.5 L712.4 427.8 L712.6 427.4 L712.9 431.7 L713.1 432.1 L713.7 429.0 L714.4 431.2 L715.0 427.4 L715.6 428.6 L716.3 424.7 L717.1 423.7 L717.9 422.6 L718.7 419.8 L719.3 420.2 L720.0 425.5 L720.6 427.9 L721.2 427.2 L721.5 427.1 L721.9 431.0 L722.3 430.6 L722.6 436.0 L723.0 437.7 L723.4 439.6 L723.7 440.6 L724.1 440.3 L724.5 443.3 L724.8 444.3 L725.1 443.7 L725.4 445.7 L725.7 449.8 L726.0 452.4 L726.3 451.8 L726.6 452.1 L726.9 454.0 L727.2 457.2 L727.5 459.1 L727.8 461.5 L727.9 465.2 L728.1 465.7 L728.3 468.3 L728.4 469.3 L728.6 470.7 L728.8 472.6 L728.9 471.4 L729.1 475.9 L729.3 476.6 L729.4 478.5 L729.6 479.4 L729.7 481.0 L730.0 479.1 L730.2 479.4 L730.5 477.5 L730.7 472.6 L731.0 474.3 L731.2 471.0 L731.5 466.8 L731.7 468.8 L731.9 467.6 L732.2 463.9 L732.4 465.2 L732.5 466.8 L732.7 467.6 L732.8 468.8 L733.0 472.3 L733.2 473.4 L733.3 476.1 L733.5 477.8 L733.7 477.0 L733.8 481.6 L734.0 481.6 L734.1 483.5 L734.4 481.4 L734.6 478.6 L734.8 479.2 L735.0 477.9 L735.2 476.8 L735.4 475.4 L735.6 471.3 L735.8 470.7 L736.0 469.4 L736.2 466.6 L736.4 463.0 L736.6 463.9 L738.0 465.9 L739.4 467.6 L740.8 466.4 L741.2 467.9 L741.6 471.8 L742.0 468.9 L742.4 473.3 L742.8 474.0 L743.2 476.2 L743.6 475.1 L743.9 471.9 L744.3 472.0 L744.6 467.6 L745.0 466.3 L745.3 465.2 L745.7 463.9 L746.3 465.3 L746.9 467.1 L747.5 471.7 L748.1 471.3 L748.3 469.7 L748.5 468.3 L748.6 464.4 L748.8 464.9 L749.0 464.5 L749.2 462.5 L749.3 462.2 L749.5 458.7 L749.7 455.9 L749.9 456.9 L750.0 455.8 L750.2 454.1 L750.4 448.0 L750.6 449.3 L750.7 445.0 L750.9 443.9 L751.1 444.9 L751.3 443.8 L751.4 440.7 L751.6 437.7 L751.8 437.0 L752.4 435.3 L753.0 432.7 L753.6 430.9 L754.2 428.9 L754.8 431.2 L755.4 427.2 L755.7 427.8 L756.0 422.3 L756.3 424.1 L756.5 422.0 L756.8 420.2 L757.1 416.1 L757.4 415.9 L757.6 415.8 L757.9 412.5 L758.3 415.2 L758.7 418.0 L759.1 415.1 L759.5 418.2 L759.9 420.0 L760.3 422.3 L760.6 420.1 L760.8 421.4 L761.1 419.6 L761.3 417.2 L761.6 414.5 L761.8 413.4 L762.1 412.1 L762.3 407.1 L762.5 407.5 L762.8 405.2 L763.4 409.3 L764.0 406.7 L764.6 409.8 L765.2 411.0 L765.9 415.2 L766.5 415.0 L767.1 413.1 L767.7 409.8 L768.3 409.4 L768.9 409.2 L769.5 407.0 L770.1 405.2 L772.0 403.9 L773.8 407.6 L774.0 407.6 L774.2 403.2 L774.4 400.3 L774.6 401.7 L774.8 400.3 L775.0 398.4 L775.2 394.1 L775.4 392.1 L775.6 394.1 L775.8 391.3 L776.1 387.1 L776.3 388.0 L776.6 390.0 L777.0 389.3 L777.4 393.0 L777.7 396.0 L778.1 395.2 L778.5 397.8 L778.8 401.2 L779.2 400.6 L779.6 404.1 L779.9 405.2 L781.8 401.6 L783.6 402.7 L783.8 405.4 L784.0 404.6 L784.3 407.3 L784.5 411.8 L784.7 412.3 L784.9 410.9 L785.1 415.7 L785.3 415.2 L785.6 417.4 L785.9 415.7 L786.1 412.8 L786.4 410.6 L786.7 413.1 L787.0 408.3 L787.3 405.6 L787.6 407.0 L787.9 401.6 L788.2 401.5 L788.5 400.3 L789.7 396.6 L790.9 394.6 L792.2 395.4 L792.5 396.1 L792.9 391.8 L793.2 390.9 L793.6 386.5 L793.9 385.9 L794.3 382.6 L794.6 383.1 L794.9 386.5 L795.3 383.7 L795.6 390.1 L795.9 391.8 L796.3 389.4 L796.6 392.5 L796.8 389.7 L797.0 387.4 L797.2 384.9 L797.4 385.6 L797.6 384.1 L797.8 384.2 L798.0 380.4 L798.2 377.1 L798.4 377.1 L798.8 378.5 L799.3 378.9 L799.7 380.0 L800.1 383.6 L800.6 385.9 L801.1 386.0 L801.7 380.4 L802.2 383.4 L802.8 379.3 L805.4 378.2 L805.8 381.6 L806.2 384.1 L806.5 383.7 L806.9 383.8 L807.3 387.9 L807.6 388.1 L809.8 390.3 L810.0 390.2 L810.3 393.8 L810.5 397.0 L810.7 397.1 L810.9 400.0 L811.2 398.6 L811.4 403.8 L811.6 403.5 L811.8 400.0 L812.1 399.3 L812.3 398.9 L812.6 398.9 L812.8 393.0 L813.1 392.1 L813.3 393.0 L813.5 388.5 L813.8 388.1 L814.1 389.2 L814.5 389.8 L814.8 395.6 L815.1 396.2 L815.4 395.8 L815.8 400.6 L816.1 401.7 L816.4 401.3 L816.7 398.7 L817.0 395.7 L817.3 397.4 L817.6 395.2 L817.9 391.6 L818.2 388.6 L818.5 388.3 L818.8 390.0 L819.1 387.0 L819.4 385.2 L819.7 382.6 L820.2 385.4 L820.7 384.9 L821.2 389.8 L821.6 389.4 L822.1 393.5 L822.6 393.6 L823.0 394.7 L823.2 394.0 L823.4 393.3 L823.6 392.1 L823.8 389.0 L824.0 388.5 L824.2 384.1 L824.4 381.9 L824.7 379.9 L824.9 378.7 L825.1 379.8 L825.3 376.0 L825.5 376.7 L825.7 377.9 L825.9 378.7 L826.1 383.6 L826.3 386.3 L826.5 385.3 L826.7 385.5 L826.9 390.3 L827.1 392.3 L827.3 391.6 L827.5 393.6 L827.7 394.7 L827.9 396.9 L828.2 395.4 L828.5 394.3 L828.8 394.0 L829.2 389.2 L829.5 390.8 L829.8 387.2 L830.1 384.7 L830.4 385.0 L830.8 381.5 L832.4 380.2 L834.1 381.5 L834.5 380.2 L835.0 380.5 L835.5 378.5 L836.0 377.1 L836.4 373.8 L836.9 372.8 L837.4 370.5 L837.9 373.6 L838.5 372.5 L839.0 377.9 L839.6 377.1 L840.5 377.1 L841.3 374.0 L842.2 373.0 L843.1 373.3 L844.0 369.4 L844.5 368.5 L844.9 371.5 L845.4 376.3 L845.9 373.7 L846.4 378.7 L846.8 379.3 L847.5 379.9 L848.2 381.3 L848.8 381.9 L849.5 385.9 L849.8 386.6 L850.2 388.8 L850.5 392.0 L850.9 394.6 L851.2 394.7 L851.5 393.6 L851.7 389.7 L852.0 390.1 L852.2 390.5 L852.5 385.3 L852.7 386.2 L852.9 382.1 L853.2 380.9 L853.4 380.5 L853.7 380.4 L853.9 377.1 L854.3 378.9 L854.8 378.6 L855.2 382.1 L855.7 381.0 L856.1 384.8 L856.4 384.3 L856.7 381.7 L857.0 378.8 L857.3 378.7 L857.6 375.6 L857.9 374.6 L858.2 373.4 L858.5 372.8 L858.8 367.9 L859.1 370.2 L859.4 366.1 L859.7 369.5 L860.0 367.6 L860.3 373.0 L860.7 371.2 L861.0 375.8 L861.3 374.0 L861.6 377.1 L862.3 377.2 L862.9 375.5 L863.6 372.1 L864.2 371.0 L864.9 368.3 L865.6 367.9 L866.2 365.5 L866.9 362.2 L867.6 362.7 L868.2 359.5 L869.0 363.0 L869.9 362.4 L870.7 365.5 L871.5 365.0 L872.0 362.6 L872.4 361.4 L872.8 361.0 L873.3 357.4 L873.7 358.2 L874.2 355.1 L874.9 358.1 L875.6 356.5 L876.4 359.5 L876.6 360.6 L876.8 364.8 L877.1 364.5 L877.3 363.7 L877.6 369.4 L877.8 367.8 L878.0 370.9 L878.3 374.8 L878.5 375.7 L878.8 377.3 L879.0 375.1 L879.2 379.3 L880.9 376.9 L882.5 377.1 L882.8 373.5 L883.2 376.5 L883.5 370.9 L883.8 369.1 L884.1 370.4 L884.4 369.1 L884.7 366.1 L886.4 367.8 L888.0 367.2 L888.5 369.1 L889.0 372.7 L889.5 372.9 L889.9 371.7 L890.4 377.6 L890.9 375.0 L891.3 379.3 L892.2 380.4 L893.1 376.8 L894.0 374.9 L894.2 377.3 L894.5 377.0 L894.7 381.9 L895.0 381.0 L895.2 383.9 L895.5 382.9 L895.7 387.8 L895.9 390.4 L896.2 390.3 L896.6 389.4 L897.0 388.8 L897.4 386.0 L897.8 384.3 L898.2 384.2 L898.6 379.2 L899.1 379.3 L900.7 377.7 L902.4 377.1 L902.8 377.1 L903.3 375.2 L903.8 374.5 L904.3 372.0 L904.7 370.1 L905.2 368.4 L905.7 366.1 L906.0 363.0 L906.2 364.2 L906.5 362.8 L906.8 358.1 L907.1 357.2 L907.4 355.8 L907.7 355.7 L908.0 350.7 L908.2 349.3 L908.5 349.6 L908.8 353.4 L909.0 354.3 L909.2 354.1 L909.4 354.5 L909.6 355.3 L909.9 357.7 L910.1 363.2 L910.3 360.6 L910.5 366.3 L910.7 366.1 L910.8 366.0 L910.9 370.9 L910.9 369.5 L911.0 373.6 L911.1 375.6 L911.1 375.9 L911.2 376.0 L911.3 379.0 L911.3 379.3 L911.4 384.6 L911.5 383.6 L911.5 385.8 L911.6 386.1 L911.7 388.3 L911.8 392.3 L911.8 393.9 L911.9 395.2 L912.0 397.4 L912.0 399.2 L912.1 395.8 L912.2 398.8 L912.2 399.4 L912.3 404.9 L912.4 402.9 L912.4 407.9 L912.5 408.0 L912.6 404.7 L912.6 403.2 L912.7 402.2 L912.8 403.6 L912.9 398.6 L913.0 396.7 L913.0 398.2 L913.1 393.8 L913.2 393.9 L913.3 391.7 L913.3 391.3 L913.4 388.6 L913.5 385.6 L913.6 383.5 L913.6 385.6 L913.7 380.8 L913.8 379.3 L913.9 379.4 L913.9 379.7 L914.0 375.0 L914.1 373.2 L914.2 371.7 L914.3 370.7 L914.3 371.5 L914.4 368.1 L914.5 366.1 L914.5 364.7 L914.5 361.9 L914.6 360.4 L914.6 359.4 L914.7 359.6 L914.7 358.5 L914.7 356.4 L914.8 351.7 L914.8 353.8 L914.8 348.9 L914.9 347.4 L914.9 346.5 L914.9 343.0 L915.0 343.5 L915.0 344.1 L915.0 338.2 L915.1 341.0 L915.1 336.5 L915.1 334.1 L915.2 334.0 L915.2 330.0 L915.2 329.6 L915.3 330.2 L915.3 326.2 L915.3 326.9 L915.4 322.9 L915.4 323.7 L915.4 321.9 L915.5 319.6 L915.5 317.4 L915.5 314.5 L915.6 314.3 L915.7 313.9 L915.7 317.6 L915.8 318.4 L915.9 322.6 L915.9 320.5 L916.0 322.0 L916.1 324.9 L916.1 327.6 L916.2 330.2 L916.3 331.3 L916.4 331.0 L916.4 331.7 L916.5 336.4 L916.6 335.1 L916.6 340.3 L916.7 341.1 L916.8 344.1 L916.9 343.3 L916.9 345.1 L917.0 347.7 L917.1 346.5 L917.1 352.0 L917.2 352.3 L917.3 354.4 L917.3 355.1 L917.6 351.1 L917.8 350.5 L918.1 348.1 L918.3 347.3 L918.6 345.9 L918.8 347.0 L919.1 342.9 L919.3 341.7 L919.5 339.7 L919.7 340.9 L919.9 342.5 L920.1 342.4 L920.3 347.2 L920.5 347.8 L920.6 348.0 L920.8 352.5 L921.0 350.4 L921.2 356.5 L921.4 356.4 L921.6 359.6 L921.8 359.5 L922.0 357.9 L922.2 354.4 L922.4 354.6 L922.6 351.6 L922.8 351.7 L923.0 347.3 L923.2 349.2 L923.4 348.2 L923.6 345.4 L923.8 342.7 L924.0 341.9 L924.1 344.5 L924.3 344.7 L924.5 349.4 L924.6 350.7 L924.8 350.0 L925.0 353.6 L925.1 352.4 L925.3 357.6 L925.5 358.0 L925.6 356.2 L925.8 361.2 L926.0 361.6 L926.2 363.9 L926.3 363.0 L926.5 358.7 L926.7 358.3 L926.8 359.7 L927.0 356.2 L927.2 354.3 L927.3 353.5 L927.5 349.0 L927.7 347.5 L927.9 347.3 L928.0 345.4 L928.2 344.4 L928.4 343.0 L928.7 344.8 L928.9 344.0 L929.2 346.6 L929.5 351.0 L929.8 352.2 L930.1 353.2 L930.4 351.8 L930.7 356.5 L931.0 357.3 L931.2 356.9 L931.3 359.2 L931.5 361.1 L931.7 366.6 L931.9 365.0 L932.0 366.5 L932.2 367.1 L932.4 370.4 L932.5 374.0 L932.7 373.4 L932.9 375.5 L933.0 375.6 L933.2 379.3 L933.3 379.3 L933.5 380.7 L933.6 386.2 L933.7 388.0 L933.8 387.7 L933.9 390.0 L934.1 390.7 L934.2 394.0 L934.3 394.7 L934.5 391.7 L934.7 390.7 L934.9 391.1 L935.1 387.5 L935.3 389.3 L935.5 384.9 L935.7 380.9 L935.9 381.8 L936.1 382.2 L936.3 377.0 L936.5 377.1 L939.4 377.1 L939.8 378.4 L940.1 380.6 L940.5 383.8 L940.9 380.9 L941.3 386.1 L941.6 384.4 L942.0 388.1 L942.3 390.9 L942.6 393.7 L942.8 393.8 L943.1 392.3 L943.4 395.2 L943.7 397.9 L943.9 401.8 L944.2 401.3 L944.4 402.6 L944.5 403.3 L944.7 407.5 L944.8 409.0 L945.0 411.9 L945.1 411.7 L945.3 414.0 L945.4 416.3 L945.5 414.3 L945.7 415.1 L945.8 420.8 L946.0 421.4 L946.1 424.3 L946.3 425.8 L946.4 425.6 L947.0 425.3 L947.5 427.7 L948.1 432.4 L948.6 432.2 L949.2 430.8 L949.7 430.4 L950.3 429.3 L950.8 425.6 L951.1 424.7 L951.4 427.6 L951.7 428.3 L951.9 430.8 L952.2 433.3 L952.5 437.7 L952.8 435.7 L953.0 438.8 L953.4 437.2 L953.8 435.3 L954.2 436.4 L954.5 433.4 L954.9 430.5 L955.3 427.2 L955.7 427.8 L958.5 427.8 L958.8 424.9 L959.0 422.4 L959.3 425.2 L959.5 419.9 L959.8 417.5 L960.0 415.1 L960.3 414.0 L960.5 414.6 L960.7 412.4 L961.0 414.0 L961.3 416.1 L961.6 418.5 L961.8 417.4 L962.1 421.1 L962.4 422.7 L962.7 426.4 L962.9 425.6 L965.2 427.8 L965.7 429.0 L966.3 429.6 L966.8 431.3 L967.4 434.4 L967.6 433.8 L967.8 432.6 L968.1 428.2 L968.3 429.2 L968.6 428.1 L968.8 423.5 L969.1 420.3 L969.3 422.9 L969.6 419.0 L969.7 419.3 L969.9 424.8 L970.1 423.4 L970.3 425.6 L970.5 427.0 L970.7 426.7 L970.8 429.8 L971.0 430.0 L971.2 433.8 L971.4 433.5 L971.6 437.7 L971.8 438.8 L972.3 440.6 L972.9 444.2 L973.4 445.3 L974.0 445.8 L974.6 448.4 L975.1 447.9 L975.7 451.7 L976.2 452.3 L976.8 455.0 L977.3 454.8 L978.0 458.6 L978.7 459.4 L979.4 462.4 L980.1 462.2 L981.3 461.5 L982.5 465.9 L983.1 470.0 L983.7 469.5 L984.3 471.4 L984.6 469.6 L984.9 466.3 L985.2 464.9 L985.5 464.3 L985.9 461.5 L986.2 460.4 L987.1 456.0 L988.0 456.7 L988.7 457.7 L989.5 458.6 L990.2 462.2 L990.4 463.1 L990.7 456.9 L990.9 458.5 L991.1 457.1 L991.3 456.8 L991.6 453.8 L991.8 452.1 L992.0 449.3 L992.7 451.8 L993.4 455.1 L994.1 456.6 L994.8 456.7 L995.2 458.5 L995.7 462.8 L996.2 462.6 L996.6 464.0 L996.8 462.0 L997.0 459.8 L997.2 459.9 L997.4 457.9 L997.5 455.1 L997.7 454.3 L997.9 452.5 L998.1 453.2 L998.3 447.7 L998.5 445.9 L998.6 446.5 L998.8 445.2 L999.0 440.9 L999.2 441.5 L999.4 440.2 L999.8 440.1 L1000.3 442.2 L1000.8 447.1 L1001.2 447.5 L1001.7 443.2 L1002.1 442.3 L1002.6 441.9 L1003.0 440.2 L1003.3 440.1 L1003.6 438.2 L1003.8 435.1 L1004.1 433.4 L1004.4 433.2 L1004.6 430.1 L1004.9 428.2 L1005.3 431.4 L1005.7 431.3 L1006.1 431.4 L1006.5 437.2 L1006.9 435.3 L1007.2 438.8 L1007.6 440.2 L1008.0 442.7 L1008.3 443.3 L1008.7 444.3 L1009.0 444.3 L1009.4 447.9 L1009.7 447.6 L1010.0 451.6 L1010.4 453.0 L1011.8 453.6 L1013.1 454.8 L1013.8 454.5 L1014.5 457.8 L1015.2 460.1 L1015.9 462.2 L1016.4 462.8 L1016.8 468.2 L1017.3 466.6 L1017.7 469.5 L1018.5 465.5 L1019.2 463.4 L1019.9 464.0 L1020.7 459.9 L1021.5 460.0 L1022.3 458.5 L1022.5 454.4 L1022.7 454.9 L1022.8 455.7 L1023.0 450.6 L1023.2 451.2 L1023.3 448.7 L1023.5 445.1 L1023.7 444.8 L1023.8 441.0 L1024.0 441.5 L1024.2 440.2 L1025.5 436.3 L1026.9 436.5 L1027.8 436.3 L1028.8 440.2 L1029.3 438.1 L1029.9 435.8 L1030.4 433.0 L1031.0 431.0 L1031.5 431.0 L1031.8 431.7 L1032.1 437.1 L1032.4 438.9 L1032.7 437.3 L1033.0 437.7 L1033.3 442.0 L1033.9 440.1 L1034.4 440.3 L1035.0 435.1 L1035.5 437.2 L1036.1 432.8 L1036.8 430.6 L1037.5 427.9 L1038.2 425.1 L1038.8 425.5 L1039.2 426.2 L1039.6 429.3 L1040.0 429.9 L1040.3 432.2 L1040.7 434.7 L1041.3 437.6 L1041.9 438.3 L1042.5 440.2 L1043.1 436.1 L1043.6 434.4 L1044.2 436.5 L1044.7 431.1 L1045.3 431.0 L1045.6 428.8 L1045.9 428.7 L1046.2 428.6 L1046.5 424.6 L1046.8 424.1 L1047.1 421.8 L1047.4 421.1 L1047.7 417.8 L1048.0 416.3 L1049.4 413.4 L1050.8 413.5 L1051.2 415.4 L1051.7 417.4 L1052.2 416.6 L1052.6 420.0 L1053.4 422.3 L1054.1 423.4 L1054.8 425.5 L1055.3 423.0 L1055.7 421.7 L1056.2 419.3 L1056.7 418.1 L1057.0 415.9 L1057.3 417.5 L1057.7 412.5 L1058.0 411.7 L1058.4 407.7 L1058.7 407.6 L1059.0 407.1 L1059.2 407.0 L1059.3 403.7 L1059.5 403.0 L1059.6 402.5 L1059.8 399.6 L1059.9 399.3 L1060.0 397.1 L1060.2 392.0 L1060.3 392.5 L1060.5 387.7 L1060.6 389.2 L1060.7 388.9 L1060.9 385.1 L1061.3 388.1 L1061.8 390.8 L1062.3 391.0 L1062.7 392.4 L1064.1 392.0 L1065.5 388.8 L1066.8 388.3 L1068.2 390.6 L1069.1 391.0 L1070.1 391.5 L1071.0 395.2 L1071.3 395.0 L1071.5 400.1 L1071.8 398.3 L1072.1 403.5 L1072.4 402.6 L1072.6 407.3 L1072.9 409.7 L1073.2 408.9 L1073.5 405.0 L1073.9 406.2 L1074.2 405.1 L1074.5 402.5 L1074.9 398.6 L1075.2 399.5 L1075.6 397.9 L1075.8 397.2 L1075.9 394.6 L1076.1 390.9 L1076.3 391.2 L1076.5 386.7 L1076.7 385.8 L1076.9 384.9 L1077.0 383.9 L1077.2 381.6 L1077.4 380.5 L1077.6 380.9 L1077.7 386.1 L1077.9 383.5 L1078.0 385.5 L1078.2 390.2 L1078.3 389.6 L1078.5 394.1 L1078.6 395.8 L1078.8 395.7 L1078.9 398.0 L1079.1 398.4 L1079.2 400.7 L1080.0 400.4 L1080.8 400.1 L1081.6 396.1 L1081.9 395.2 L1082.3 392.3 L1082.6 393.5 L1082.9 387.2 L1083.2 389.6 L1083.5 389.0 L1083.8 385.1 L1083.9 382.0 L1084.0 382.4 L1084.2 378.0 L1084.3 377.8 L1084.4 379.0 L1084.5 372.9 L1084.6 371.7 L1084.7 369.9 L1084.8 368.2 L1084.9 366.9 L1085.0 369.0 L1085.1 365.6 L1085.2 363.4 L1085.3 363.2 L1085.5 360.8 L1085.6 360.8 L1085.7 356.6 L1086.1 357.5 L1086.6 360.2 L1087.0 363.8 L1087.5 362.4 L1088.0 367.2 L1088.4 366.7 L1089.3 367.9 L1090.3 370.2 L1091.2 372.2 L1091.3 370.1 L1091.5 367.0 L1091.7 366.6 L1091.8 366.8 L1092.0 365.9 L1092.2 362.8 L1092.3 358.6 L1092.5 359.7 L1092.7 358.4 L1092.8 356.6 L1093.0 353.1 L1093.2 350.5 L1093.3 351.3 L1093.5 348.2 L1093.7 349.6 L1093.8 346.3 L1094.2 346.5 L1094.6 340.7 L1095.1 342.7 L1095.5 339.5 L1095.9 337.7 L1096.3 336.5 L1096.4 334.6 L1096.6 335.1 L1096.7 329.5 L1096.8 332.2 L1097.0 330.5 L1097.1 326.3 L1097.2 327.5 L1097.4 325.0 L1097.5 322.7 L1097.6 320.3 L1097.8 319.6 L1097.9 317.3 L1098.0 316.8 L1098.2 312.2 L1098.3 311.6 L1098.5 309.1 L1098.6 306.1 L1098.7 307.1 L1099.3 306.3 L1100.0 303.4 L1100.2 302.3 L1100.4 298.7 L1100.6 300.0 L1100.8 297.9 L1101.0 296.4 L1101.2 293.8 L1101.5 290.6 L1101.7 290.0 L1101.9 292.5 L1102.1 292.1 L1102.3 295.3 L1102.4 298.4 L1102.6 298.6 L1102.8 302.1 L1103.0 303.6 L1103.2 303.5 L1103.4 304.8 L1103.6 307.1 L1103.8 307.6 L1104.0 310.2 L1104.2 309.8 L1104.4 315.3 L1104.6 313.9 L1104.8 314.7 L1105.1 316.6 L1105.3 319.4 L1105.5 320.9 L1105.7 324.0 L1105.9 324.2 L1106.1 326.7 L1106.3 323.5 L1106.4 323.2 L1106.6 321.6 L1106.8 320.0 L1107.0 317.6 L1107.2 316.7 L1107.4 317.3 L1107.6 312.4 L1107.8 312.5 L1108.0 309.4 L1108.1 309.1 L1108.3 305.8 L1108.5 304.6 L1108.6 304.5 L1108.7 303.8 L1108.8 300.6 L1108.9 299.1 L1109.0 293.8 L1109.1 295.4 L1109.2 293.8 L1109.3 289.3 L1109.4 290.8 L1109.5 289.4 L1109.6 288.2 L1109.6 283.8 L1109.7 282.6 L1110.0 282.6 L1110.2 284.3 L1110.4 285.0 L1110.6 289.1 L1110.8 293.3 L1111.0 291.7 L1111.3 294.2 L1111.5 293.7 L1111.7 297.3 L1112.1 296.9 L1112.6 292.9 L1113.0 290.7 L1113.4 290.0 L1113.5 289.9 L1113.7 287.6 L1113.8 285.3 L1113.9 284.3 L1114.1 279.6 L1114.2 280.9 L1114.3 278.5 L1114.5 277.0 L1114.6 273.8 L1114.7 272.7 L1114.9 269.2 L1115.0 269.4 L1115.1 267.9 L1115.2 266.1 L1115.4 264.9 L1115.5 262.8 L1115.6 261.7 L1115.7 259.7 L1115.8 260.3 L1115.9 254.3 L1116.0 255.1 L1116.1 253.9 L1116.3 252.5 L1116.4 247.6 L1116.5 246.3 L1116.6 245.9 L1116.7 248.6 L1116.9 249.8 L1117.0 249.9 L1117.2 254.1 L1117.3 253.8 L1117.5 254.4 L1117.6 257.1 L1117.7 257.5 L1117.9 261.9 L1118.0 264.6 L1118.2 265.0 L1118.3 265.5 L1119.5 267.1 L1120.8 267.9 L1120.9 267.5 L1121.1 273.7 L1121.3 275.0 L1121.4 276.5 L1121.6 277.7 L1121.8 276.0 L1122.0 279.0 L1122.1 281.6 L1122.3 283.9 L1122.5 285.1 L1122.6 281.9 L1122.7 283.7 L1122.8 280.0 L1123.0 279.5 L1123.1 278.6 L1123.2 273.7 L1123.3 271.7 L1123.5 272.0 L1123.6 267.9 L1123.7 265.8 L1123.8 264.1 L1123.9 266.3 L1124.1 265.0 L1124.2 260.9 L1124.3 259.6 L1124.4 258.1 L1124.6 256.9 L1124.8 253.9 L1125.0 252.4 L1125.2 251.0 L1125.5 248.7 L1125.7 249.4 L1125.9 247.0 L1126.1 243.1 L1126.3 241.4 L1126.5 243.1 L1126.7 240.1 L1126.9 238.5 L1127.2 238.7 L1127.4 236.2 L1127.7 233.7 L1128.0 230.3 L1128.3 230.4 L1128.6 227.9 L1128.8 226.3 L1129.0 229.2 L1129.1 228.3 L1129.3 233.7 L1129.4 235.2 L1129.6 237.0 L1129.7 235.5 L1129.8 236.1 L1130.0 239.1 L1130.1 242.4 L1130.3 243.4 L1130.4 241.7 L1130.6 245.9 L1130.7 242.8 L1130.9 245.0 L1131.1 241.2 L1131.3 237.1 L1131.5 238.1 L1131.7 237.5 L1131.9 236.6 L1132.1 230.8 L1132.3 231.2 L1132.3 230.6 L1132.4 225.9 L1132.4 227.0 L1132.5 224.8 L1132.6 220.5 L1132.6 219.6 L1132.7 219.3 L1132.8 219.1 L1132.8 218.9 L1132.9 213.6 L1132.9 211.9 L1133.0 212.4 L1133.1 209.6 L1133.1 208.7 L1133.2 208.4 L1133.2 206.2 L1133.3 202.9 L1133.4 200.9 L1133.4 200.9 L1133.5 198.8 L1133.5 197.5 L1133.6 194.9 L1133.7 194.6 L1133.7 190.3 L1133.8 191.7 L1133.9 187.9 L1133.9 186.4 L1134.0 182.8 L1134.0 185.2 L1134.1 182.2 L1134.2 180.9 L1134.2 178.6 L1134.3 179.3 L1134.4 179.6 L1134.5 183.7 L1134.6 185.2 L1134.7 185.2 L1134.8 190.1 L1134.9 187.7 L1135.0 193.6 L1135.1 195.6 L1135.2 193.0 L1135.3 199.1 L1135.4 200.7 L1135.5 199.3 L1135.6 201.4 L1135.7 205.0 L1135.8 202.7 L1135.9 208.3 L1136.0 205.8 L1136.1 210.6 L1136.2 211.6 L1136.3 207.6 L1136.4 208.0 L1136.6 207.6 L1136.7 205.0 L1136.8 202.4 L1137.0 200.2 L1137.1 197.6 L1137.2 196.9 L1137.4 194.9 L1137.5 193.3 L1137.6 191.0 L1137.8 189.7 L1137.9 189.6 L1138.1 190.8 L1138.4 191.0 L1138.6 196.0 L1138.9 195.5 L1139.1 199.8 L1139.4 200.4 L1139.6 201.8 L1139.7 204.6 L1139.9 206.3 L1140.0 206.0 L1140.1 209.3 L1140.3 207.6 L1140.4 213.4 L1140.5 214.4 L1140.7 217.1 L1140.8 215.7 L1140.9 216.4 L1141.0 221.0 L1141.2 219.7 L1141.3 225.0 L1141.4 223.8 L1141.6 226.3 L1141.7 226.5 L1141.8 220.8 L1141.9 220.2 L1142.0 221.3 L1142.1 215.8 L1142.2 217.6 L1142.3 214.2 L1142.4 213.4 L1142.4 209.8 L1142.5 208.4 L1142.6 210.1 L1142.7 207.6 L1142.8 202.8 L1142.9 201.0 L1143.0 199.5 L1143.1 198.3 L1143.2 197.1 L1143.3 196.7 L1143.4 193.9 L1143.5 193.3 L1143.6 197.2 L1143.6 194.3 L1143.6 198.1 L1143.7 200.4 L1143.7 202.9 L1143.7 202.8 L1143.7 205.3 L1143.8 204.4 L1143.8 206.7 L1143.8 211.3 L1143.9 208.6 L1143.9 212.9 L1143.9 216.5 L1144.0 218.1 L1144.0 215.9 L1144.0 221.7 L1144.1 220.6 L1144.1 220.5 L1144.1 225.6 L1144.2 225.8 L1144.2 229.8 L1144.2 226.9 L1144.3 232.3 L1144.3 231.1 L1144.3 231.3 L1144.3 233.6 L1144.4 238.4 L1144.4 240.7 L1144.4 241.4 L1144.5 242.6 L1144.5 243.4 L1144.6 244.7 L1144.8 245.7 L1144.9 247.7 L1145.0 247.7 L1145.2 249.7 L1145.3 251.9 L1145.4 257.0 L1145.5 258.6 L1145.7 257.0 L1145.8 262.1 L1145.9 259.5 L1146.1 263.9 L1146.2 262.6 L1146.3 266.7 L1146.5 267.9 L1146.8 268.7 L1147.2 265.6 L1147.5 263.6 L1147.9 261.8 L1148.2 260.9 L1148.6 257.4 L1148.9 255.7 L1149.0 259.4 L1149.1 260.2 L1149.2 261.8 L1149.3 261.0 L1149.4 265.6 L1149.5 268.1 L1149.6 265.1 L1149.7 268.8 L1149.8 271.8 L1149.9 274.0 L1150.0 275.7 L1150.1 274.8 L1150.3 277.3 L1150.4 280.4 L1150.5 283.3 L1150.6 280.5 L1150.7 281.6 L1150.8 287.7 L1150.9 287.5 L1151.5 286.9 L1152.1 289.0 L1152.7 292.3 L1153.3 294.8 L1153.9 294.1 L1154.5 300.7 L1155.2 297.9 L1155.8 302.2 L1156.0 298.3 L1156.3 298.9 L1156.6 296.7 L1156.9 297.0 L1157.1 295.9 L1157.4 289.9 L1157.7 293.1 L1157.9 286.9 L1158.2 287.5 L1158.4 288.5 L1158.5 289.5 L1158.7 290.8 L1158.8 292.0 L1159.0 297.4 L1159.1 296.6 L1159.3 298.4 L1159.4 302.9 L1159.6 302.0 L1159.8 302.4 L1159.9 304.0 L1160.1 306.9 L1160.2 307.0 L1160.4 311.8 L1160.5 311.9 L1160.7 315.2 L1160.8 315.7 L1161.0 315.4 L1161.2 319.3 L1161.6 323.6 L1162.0 324.1 L1162.4 325.0 L1162.8 324.4 L1163.2 328.8 L1163.7 330.0 L1164.1 331.6 L1164.2 331.0 L1164.3 325.9 L1164.5 327.4 L1164.6 327.2 L1164.7 324.7 L1164.9 322.3 L1165.0 318.2 L1165.1 318.8 L1165.2 317.4 L1165.4 313.4 L1165.5 315.2 L1165.6 310.3 L1165.7 307.4 L1165.9 307.9 L1166.0 308.4 L1166.1 304.6 L1166.9 304.2 L1167.6 300.5 L1168.3 299.7 L1169.1 300.8 L1169.8 297.3 L1170.0 297.9 L1170.3 293.6 L1170.5 292.1 L1170.8 289.3 L1171.0 289.6 L1171.3 289.0 L1171.5 284.5 L1171.8 285.3 L1172.0 281.9 L1172.2 280.2 L1172.6 282.9 L1172.9 284.8 L1173.3 286.1 L1173.6 285.5 L1174.0 291.3 L1174.3 288.3 L1174.7 292.4 L1174.9 292.5 L1175.1 293.6 L1175.3 298.2 L1175.5 298.7 L1175.7 303.0 L1175.9 300.5 L1176.1 301.7 L1176.3 302.9 L1176.5 306.1 L1176.7 310.3 L1176.9 309.6 L1177.1 312.0 L1177.7 313.9 L1178.4 314.6 L1179.0 316.4 L1179.6 319.3 L1179.9 322.3 L1180.3 320.2 L1180.6 324.9 L1181.0 328.6 L1181.3 327.1 L1181.7 329.8 L1182.0 331.6 L1182.4 330.7 L1182.8 327.2 L1183.3 325.1 L1183.7 326.9 L1184.1 320.8 L1184.5 321.8 L1184.9 322.0 L1185.3 324.9 L1185.7 324.4 L1186.1 325.9 L1186.5 331.9 L1186.9 331.6 L1187.1 331.5 L1187.3 328.4 L1187.5 329.0 L1187.7 326.7 L1187.9 324.6 L1188.2 321.1 L1188.4 321.3 L1188.6 317.7 L1188.8 316.1 L1189.0 313.6 L1189.2 311.0 L1189.4 313.5 L1189.6 311.8 L1189.8 310.5 L1190.0 306.7 L1190.2 306.5 L1190.4 304.3 L1190.6 302.2 L1191.4 299.4 L1192.2 298.7 L1193.0 297.3 L1193.7 297.1 L1194.3 302.6 L1194.9 303.9 L1195.5 304.6 L1195.7 304.0 L1196.0 309.1 L1196.2 310.9 L1196.5 309.2 L1196.7 315.7 L1197.0 317.5 L1197.2 316.6 L1197.5 317.7 L1197.7 317.5 L1197.9 321.8 L1198.2 321.5 L1198.5 319.7 L1198.8 315.4 L1199.0 313.0 L1199.3 313.1 L1199.6 313.5 L1199.8 309.4 L1200.1 309.2 L1200.4 307.1 L1200.5 309.7 L1200.6 308.6 L1200.8 312.3 L1200.9 311.7 L1201.0 316.7 L1201.1 316.6 L1201.2 320.4 L1201.4 319.5 L1201.5 321.0 L1201.6 322.8 L1201.7 324.4 L1201.9 327.8 L1202.0 326.9 L1202.1 327.0 L1202.2 331.9 L1202.4 330.9 L1202.5 332.5 L1202.6 335.1 L1202.7 337.4 L1202.8 337.7 L1203.0 342.8 L1203.1 341.3 L1203.2 346.1 L1203.3 344.4 L1203.5 344.6 L1203.6 348.7 L1203.8 348.7 L1204.1 344.7 L1204.3 341.0 L1204.6 342.3 L1204.8 341.4 L1205.0 337.7 L1205.3 336.5 L1205.6 335.7 L1206.0 335.5 L1206.3 330.0 L1206.7 330.1 L1207.0 330.3 L1207.4 324.9 L1207.7 324.2 L1208.1 324.3 L1208.6 318.8 L1209.0 320.2 L1209.4 317.9 L1209.8 317.4 L1210.2 314.5 L1210.6 313.9 L1211.0 309.1 L1211.4 309.5 L1211.8 309.7 L1212.1 306.3 L1212.5 305.4 L1212.9 304.0 L1213.2 301.0 L1213.6 301.1 L1214.0 298.7 L1214.3 294.6 L1214.7 292.0 L1215.1 292.4 L1215.6 291.8 L1216.1 291.0 L1216.7 286.3 L1217.2 284.5 L1217.7 284.6 L1218.2 284.3 L1218.8 280.2 L1219.2 279.1 L1219.6 274.7 L1220.0 275.3 L1220.4 273.5 L1220.8 270.4 L1221.2 271.1 L1221.6 269.1 L1222.0 266.7 L1222.4 265.5 L1222.8 267.7 L1223.2 266.7 L1223.6 272.5 L1224.1 271.2 L1224.5 272.8 L1224.9 275.3 L1225.5 275.4 L1226.1 272.0 L1226.7 272.3 L1227.3 267.9 L1228.1 270.9 L1228.8 272.1 L1229.5 274.7 L1230.3 274.8 L1231.0 275.3 L1231.2 274.7 L1231.4 278.9 L1231.6 280.2 L1231.7 282.2 L1231.9 286.2 L1232.1 287.9 L1232.3 288.3 L1232.5 290.5 L1232.7 287.9 L1232.9 291.9 L1233.1 293.7 L1233.3 294.2 L1233.4 297.3 L1234.1 301.1 L1234.7 298.1 L1235.3 304.0 L1235.9 306.4 L1236.5 304.6 L1237.1 307.1 L1237.5 306.4 L1237.8 310.2 L1238.2 310.3 L1238.5 316.4 L1238.9 315.9 L1239.2 316.0 L1239.6 319.3 L1240.0 322.1 L1240.4 322.7 L1240.8 324.5 L1241.2 324.4 L1241.6 329.9 L1242.0 331.1 L1242.4 332.8 L1242.8 334.1 L1243.2 334.0 L1243.5 334.7 L1243.8 329.4 L1244.1 330.5 L1244.5 327.0 L1244.8 324.3 L1245.1 325.3 L1245.4 322.6 L1245.7 319.7 L1246.0 319.4 L1246.3 317.2 L1246.6 316.5 L1246.9 314.4 L1247.7 314.2 L1248.5 312.5 L1249.4 309.5 L1249.7 306.8 L1250.0 305.5 L1250.3 303.2 L1250.6 305.4 L1250.9 303.9 L1251.2 298.3 L1251.5 297.4 L1251.8 296.6 L1252.1 292.8 L1252.4 293.9 L1252.7 292.4 L1253.0 290.0 L1253.6 290.1 L1254.2 292.1 L1254.9 295.8 L1255.5 298.8 L1256.1 296.2 L1256.7 299.7 L1257.1 302.5 L1257.5 304.9 L1257.9 305.9 L1258.3 308.8 L1258.7 306.6 L1259.1 307.9 L1259.6 313.6 L1260.0 312.6 L1260.4 314.4 L1260.7 313.8 L1261.0 311.3 L1261.3 309.9 L1261.6 305.4 L1261.9 304.0 L1262.2 302.5 L1262.5 304.9 L1262.8 299.2 L1263.1 299.1 L1263.4 296.2 L1263.7 297.2 L1264.0 294.8 L1264.3 294.1 L1264.7 293.1 L1265.0 291.2 L1265.3 289.7 L1265.6 285.1 L1265.9 284.8 L1266.2 285.9 L1266.5 281.4 L1266.8 281.9 L1267.1 278.8 L1267.4 275.9 L1267.7 275.3 L1269.5 276.2 L1271.4 272.8 L1271.7 272.3 L1272.1 277.1 L1272.4 279.4 L1272.8 281.5 L1273.1 279.3 L1273.5 283.9 L1273.8 285.1 L1276.3 285.1 L1276.9 285.9 L1277.5 289.6 L1278.1 288.2 L1278.7 292.4 L1280.0 290.6 L1281.2 289.1 L1282.4 287.5 L1282.9 284.6 L1283.4 282.9 L1284.0 283.5 L1284.5 280.9 L1285.0 278.2 L1285.5 276.8 L1286.1 275.3 L1286.9 277.5 L1287.7 279.0 L1288.5 280.2 L1288.9 282.7 L1289.3 285.7 L1289.7 287.5 L1290.2 284.8 L1290.6 288.2 L1291.0 290.3 L1291.4 289.6 L1291.8 292.0 L1292.2 294.8 L1292.6 294.8 L1293.0 297.6 L1293.4 298.9 L1293.8 299.2 L1294.2 304.1 L1294.6 306.0 L1295.0 304.9 L1295.5 306.1 L1295.9 309.5 L1296.2 310.3 L1296.6 314.2 L1297.0 312.7 L1297.3 317.5 L1297.7 320.4 L1298.1 318.6 L1298.4 320.1 L1298.8 323.7 L1299.2 326.7 L1299.5 326.7 L1299.8 326.8 L1300.1 327.9 L1300.4 331.5 L1300.7 333.2 L1300.9 333.5 L1301.2 338.7 L1301.5 338.9 L1301.8 334.9 L1302.2 336.2 L1302.5 332.4 L1302.9 329.9 L1303.2 329.5 L1303.6 327.9 L1303.9 326.7 L1304.4 327.7 L1304.8 330.9 L1305.2 331.7 L1305.6 332.7 L1306.0 333.8 L1306.5 337.7 L1306.9 338.9 L1308.8 341.4 L1309.0 341.5 L1309.2 339.9 L1309.3 335.2 L1309.5 335.8 L1309.7 332.4 L1309.8 332.3 L1310.0 327.7 L1310.1 329.7 L1310.3 326.3 L1310.5 326.3 L1310.6 325.4 L1310.8 319.8 L1311.0 321.9 L1311.1 320.9 L1311.3 315.5 L1311.4 316.1 L1311.6 315.5 L1311.8 312.0 L1312.0 308.0 L1312.3 309.6 L1312.6 306.1 L1312.9 305.3 L1313.1 302.1 L1313.4 301.7 L1313.7 302.6 L1314.0 297.8 L1314.2 297.3 L1315.0 298.5 L1315.9 298.7 L1316.7 302.2 L1316.8 299.9 L1317.0 297.4 L1317.2 296.6 L1317.4 295.2 L1317.5 294.2 L1317.7 293.0 L1317.9 291.4 L1318.1 286.6 L1318.2 287.4 L1318.4 288.4 L1318.6 286.1 L1318.8 283.4 L1318.9 282.0 L1319.1 278.5 L1319.3 275.3 L1319.5 274.7 L1319.6 276.7 L1319.8 272.3 L1320.0 271.1 L1320.2 268.5 L1320.3 267.9 L1320.6 263.8 L1320.9 264.9 L1321.2 260.8 L1321.5 263.0 L1321.8 260.1 L1322.1 258.1 L1322.2 257.8 L1322.4 259.9 L1322.5 260.7 L1322.7 262.9 L1322.9 265.2 L1323.0 267.3 L1323.2 269.0 L1323.4 268.9 L1323.5 275.1 L1323.7 274.0 L1323.9 278.6 L1324.0 277.7 L1324.4 274.3 L1324.7 275.1 L1325.1 274.3 L1325.4 270.2 L1325.8 270.2 L1326.1 266.0 L1326.5 265.5 L1326.7 264.8 L1327.0 260.3 L1327.2 262.1 L1327.4 260.8 L1327.7 255.8 L1327.9 253.9 L1328.2 254.6 L1328.4 250.9 L1328.7 250.6 L1328.9 248.3 L1329.5 246.0 L1330.1 246.9 L1330.7 243.5 L1331.4 241.0 L1331.7 241.2 L1332.1 237.6 L1332.4 236.1 L1332.8 235.6 L1333.1 234.1 L1333.5 231.8 L1333.8 228.8 L1334.1 230.0 L1334.4 232.7 L1334.6 234.9 L1334.9 233.7 L1335.2 234.9 L1335.4 239.1 L1335.7 238.9 L1336.0 243.0 L1336.3 243.4 L1336.4 242.5 L1336.5 247.7 L1336.7 246.0 L1336.8 247.5 L1336.9 249.9 L1337.1 252.4 L1337.2 252.9 L1337.3 257.0 L1337.5 258.1 L1337.7 258.3 L1338.0 255.3 L1338.2 251.4 L1338.5 253.3 L1338.7 252.0 L1338.9 247.4 L1339.2 248.5 L1339.4 245.0 L1339.7 240.1 L1339.9 241.0 L1340.1 240.2 L1340.3 242.5 L1340.5 248.4 L1340.7 245.9 L1340.9 251.2 L1341.2 252.0 L1341.4 254.7 L1341.6 254.8 L1341.8 254.3 L1342.0 258.8 L1342.2 256.5 L1342.4 260.6 L1342.6 261.4 L1342.8 263.0 L1343.0 266.9 L1343.2 266.7 L1343.4 266.9 L1343.6 270.4 L1343.8 266.8 L1344.1 265.4 L1344.3 264.8 L1344.6 263.8 L1344.8 259.4 L1345.1 262.7 L1345.3 259.1 L1345.6 256.9 L1345.6 257.3 L1345.7 260.8 L1345.8 264.5 L1345.8 261.7 L1345.9 263.0 L1346.0 265.6 L1346.0 268.9 L1346.1 272.3 L1346.2 272.1 L1346.3 271.5 L1346.3 276.2 L1346.4 279.2 L1346.5 279.4 L1346.5 280.2 L1346.6 280.3 L1346.7 284.0 L1346.8 285.8 L1346.9 287.6 L1347.0 287.6 L1347.1 290.5 L1347.2 291.6 L1347.3 294.9 L1347.4 293.5 L1347.5 298.1 L1347.5 300.9 L1347.6 300.0 L1347.7 300.8 L1347.8 302.4 L1347.9 304.5 L1348.0 307.1" fill="none" stroke="#9f1ce8" stroke-width="2" stroke-linejoin="round"/>
<path d="M81.7 665.9 L82.6 666.4 L83.5 669.8 L84.4 670.5 L87.2 669.5 L88.8 670.2 L90.4 668.9 L92.0 669.5 L93.6 669.5 L93.7 667.8 L93.9 666.6 L94.0 665.3 L94.1 661.9 L94.2 660.0 L94.4 660.5 L94.5 657.8 L94.6 657.0 L94.8 653.4 L94.9 653.0 L97.3 651.2 L97.4 649.4 L97.5 648.5 L97.6 645.7 L97.7 645.9 L97.9 644.2 L98.0 640.3 L98.1 638.7 L98.2 638.3 L98.5 636.6 L98.8 635.8 L99.1 632.5 L99.4 630.2 L99.7 629.1 L99.8 627.2 L99.8 624.5 L99.9 623.3 L100.0 622.2 L100.1 620.6 L100.2 618.2 L100.3 616.5 L100.4 614.8 L100.5 613.7 L100.6 611.5 L100.7 609.1 L100.8 609.6 L100.9 607.1 L100.9 605.3 L101.0 607.3 L101.1 607.8 L101.2 611.5 L101.3 612.8 L101.4 612.6 L101.5 614.8 L101.6 617.4 L101.7 619.0 L101.8 621.3 L101.9 621.8 L102.8 619.8 L103.7 618.1 L104.6 620.4 L105.5 620.9 L106.0 623.2 L106.5 624.0 L106.9 626.6 L107.4 628.2 L108.3 627.7 L109.2 626.1 L110.1 623.6 L111.0 622.3 L112.0 621.1 L112.9 618.3 L113.8 618.1 L114.7 616.1 L115.6 616.1 L116.6 613.8 L117.5 612.6 L118.0 609.9 L118.6 609.1 L119.1 607.6 L119.7 605.7 L120.2 603.4 L120.4 601.4 L120.6 599.9 L120.7 598.5 L120.9 597.5 L121.1 595.1 L121.2 593.1 L121.4 591.7 L121.6 588.9 L121.7 587.2 L121.9 587.3 L122.1 585.1 L122.3 584.6 L122.5 581.9 L122.8 579.6 L123.0 577.3 L123.2 576.5 L123.4 576.0 L123.7 573.7 L123.9 571.3 L124.6 573.0 L125.3 575.5 L126.0 575.4 L126.7 577.7 L129.4 578.7 L130.8 580.5 L132.2 582.3 L134.9 583.2 L135.8 585.8 L136.8 586.0 L137.1 584.5 L137.4 582.4 L137.7 580.2 L138.0 579.2 L138.3 578.5 L138.6 574.3 L138.9 574.6 L139.2 573.0 L139.5 570.4 L139.6 569.7 L139.8 567.5 L139.9 566.0 L140.1 563.5 L140.2 561.9 L140.3 559.8 L140.5 557.1 L140.6 557.4 L140.8 554.7 L140.9 553.2 L141.1 550.5 L141.2 549.6 L141.4 547.8 L141.5 545.8 L141.7 544.0 L141.8 542.8 L142.0 541.3 L142.1 539.2 L142.3 537.9 L142.5 535.8 L142.6 533.0 L142.8 532.5 L143.7 529.8 L144.5 528.5 L144.6 526.0 L144.7 525.5 L144.7 524.6 L144.8 522.8 L144.9 521.2 L144.9 519.6 L145.0 516.5 L145.0 516.4 L145.1 514.4 L145.2 511.2 L145.2 509.4 L145.3 507.8 L145.4 508.1 L145.4 505.2 L145.5 504.2 L145.8 505.1 L146.0 508.3 L146.3 509.5 L146.6 510.7 L146.8 513.7 L147.0 511.0 L147.2 510.3 L147.4 507.6 L147.6 506.2 L147.8 505.6 L148.0 503.2 L148.2 501.5 L149.5 498.9 L149.7 496.5 L149.8 495.0 L149.9 492.0 L150.1 491.0 L150.2 489.4 L150.3 487.4 L150.4 485.0 L150.5 483.0 L150.6 483.3 L150.8 480.5 L150.9 478.7 L150.9 476.3 L151.0 475.7 L151.0 474.6 L151.1 470.9 L151.1 469.3 L151.2 468.0 L151.3 467.8 L151.3 464.8 L151.4 464.5 L151.4 462.9 L151.5 460.9 L151.5 459.1 L151.6 460.0 L151.6 463.6 L151.7 464.7 L151.7 465.6 L151.8 466.4 L151.9 469.2 L151.9 470.1 L152.0 472.2 L152.0 473.1 L152.1 475.5 L152.1 475.6 L152.2 477.9 L152.2 480.0 L152.7 479.4 L153.1 477.4 L153.6 474.6 L154.6 475.5 L155.6 477.3 L156.0 479.9 L156.4 480.1 L156.8 483.3 L157.2 484.4 L157.6 485.4 L158.9 482.7 L160.3 483.5 L161.6 484.7 L163.7 485.4 L164.3 486.8 L165.0 489.4 L165.1 489.9 L165.2 493.9 L165.3 493.5 L165.4 497.3 L165.5 499.4 L165.7 500.1 L165.8 500.8 L165.9 504.4 L166.0 506.4 L166.1 506.9 L166.3 505.8 L166.5 503.6 L166.7 501.6 L166.9 499.8 L167.1 497.8 L167.3 497.3 L167.5 495.0 L167.7 493.5 L169.0 490.8 L169.5 491.8 L169.9 493.3 L170.4 496.2 L170.7 498.3 L171.1 499.0 L171.4 501.2 L171.7 502.9 L172.3 504.2 L172.8 507.5 L173.4 508.3 L173.5 511.1 L173.7 510.6 L173.9 512.9 L174.1 515.0 L174.3 518.5 L174.4 519.1 L174.9 518.0 L175.3 515.0 L175.8 513.7 L176.5 514.9 L177.1 517.7 L178.1 519.5 L179.1 520.4 L180.5 523.1 L181.2 526.0 L181.8 527.1 L182.0 530.0 L182.1 530.2 L182.2 533.3 L182.3 534.5 L182.4 535.7 L182.6 538.7 L182.7 538.4 L182.8 541.4 L182.9 541.5 L183.1 543.4 L183.2 546.0 L183.5 545.4 L183.9 541.9 L184.2 541.6 L184.5 539.2 L184.7 537.9 L184.9 536.9 L185.1 534.1 L185.3 532.4 L185.5 531.2 L186.1 532.4 L186.6 535.7 L187.2 536.6 L189.2 537.9 L189.5 539.9 L189.7 542.4 L189.9 544.0 L190.1 543.7 L190.4 546.4 L190.6 548.0 L191.1 545.0 L191.7 542.8 L192.2 541.9 L192.8 539.0 L193.4 539.3 L194.0 536.6 L195.3 536.0 L196.6 533.9 L197.3 532.9 L198.0 529.9 L198.7 528.5 L199.2 527.1 L199.7 525.8 L200.2 523.1 L200.7 521.7 L200.9 520.2 L201.2 517.7 L201.4 515.6 L201.7 514.4 L201.9 514.3 L202.2 511.8 L202.5 511.1 L202.7 508.3 L204.1 509.6 L205.1 511.5 L206.1 513.7 L208.1 515.0 L210.1 513.7 L210.6 514.9 L211.0 518.0 L211.5 519.1 L211.7 521.7 L211.9 521.4 L212.1 524.4 L213.1 522.9 L214.1 520.4 L216.8 519.1 L218.9 517.0 L219.5 517.5 L220.2 519.2 L220.9 521.7 L222.2 521.7 L223.6 519.7 L225.3 517.5 L226.9 517.7 L229.6 518.4 L232.3 519.7 L235.0 518.4 L237.7 517.0 L238.4 514.8 L239.1 515.2 L239.7 512.3 L241.8 510.3 L244.4 509.6 L245.5 508.1 L246.5 506.9 L246.9 504.2 L247.4 502.6 L247.9 501.0 L248.4 500.6 L248.8 498.2 L250.0 496.0 L251.1 497.0 L252.3 494.8 L252.8 492.8 L253.4 492.6 L253.9 490.7 L254.5 487.4 L255.0 486.2 L255.2 487.3 L255.4 489.6 L255.5 490.3 L255.7 493.5 L255.9 493.6 L256.0 495.2 L256.2 499.5 L256.4 499.4 L256.6 501.9 L256.7 503.4 L257.1 501.5 L257.4 499.4 L257.8 497.1 L258.1 497.6 L258.4 496.0 L258.8 494.3 L259.1 491.4 L260.4 489.3 L261.7 488.6 L263.0 488.6 L264.3 487.2 L266.0 489.2 L267.7 488.6 L269.0 489.8 L270.3 491.3 L271.6 492.4 L272.8 493.1 L274.1 491.2 L275.4 490.6 L276.7 488.7 L278.0 487.9 L279.7 486.1 L281.4 484.6 L283.1 484.5 L284.8 483.8 L286.5 485.4 L288.3 483.9 L290.0 483.8 L290.6 482.6 L291.3 480.9 L291.9 480.1 L292.5 477.0 L293.2 475.2 L293.8 473.6 L294.5 471.9 L295.1 470.8 L295.7 470.0 L296.3 468.4 L296.8 465.1 L297.4 463.5 L298.0 462.3 L298.5 460.5 L299.1 459.0 L299.7 457.3 L300.3 454.7 L300.8 452.4 L301.4 451.3 L302.0 450.2 L302.5 447.4 L303.1 446.9 L303.7 444.0 L304.3 442.3 L304.8 442.0 L305.4 440.0 L305.6 437.7 L305.7 437.3 L305.9 434.8 L306.1 434.0 L306.3 430.5 L306.4 429.7 L306.6 428.7 L306.8 425.1 L306.9 425.7 L307.1 422.8 L307.5 420.3 L307.9 420.1 L308.3 418.9 L308.7 416.8 L309.1 413.8 L309.5 412.5 L309.6 409.9 L309.8 409.4 L309.9 408.8 L310.1 405.6 L310.2 405.6 L310.3 402.0 L310.5 402.4 L310.6 398.5 L310.7 397.7 L310.9 397.6 L311.0 395.7 L311.2 394.4 L311.3 392.6 L311.4 390.8 L311.6 388.5 L311.6 390.7 L311.7 391.0 L311.7 393.3 L311.8 394.2 L311.8 397.3 L311.9 398.8 L312.0 399.4 L312.0 400.6 L312.1 404.6 L312.1 405.8 L312.2 406.8 L312.2 408.4 L312.3 410.8 L312.3 411.5 L312.4 412.9 L312.4 414.4 L312.5 415.9 L312.6 416.9 L312.6 420.2 L312.7 421.2 L312.7 423.3 L312.8 423.6 L312.8 426.0 L312.9 427.1 L312.9 429.7 L313.1 427.1 L313.2 425.8 L313.3 425.7 L313.4 423.0 L313.5 421.3 L313.7 420.3 L313.8 417.7 L313.9 415.5 L314.0 415.2 L314.1 413.5 L314.3 412.3 L314.4 410.2 L314.5 409.2 L314.6 407.7 L314.8 404.8 L314.9 403.9 L315.0 402.3 L315.3 403.9 L315.6 405.0 L315.9 407.2 L316.2 409.3 L316.5 411.9 L316.8 413.6 L317.1 413.7 L317.4 416.0 L318.2 414.6 L319.1 411.4 L320.0 409.7 L320.8 409.1 L322.5 410.0 L324.2 410.8 L325.3 413.2 L326.3 412.7 L327.3 415.6 L328.4 417.3 L329.4 417.7 L329.8 418.9 L330.2 421.6 L330.6 423.7 L331.0 424.2 L331.3 426.8 L331.7 428.6 L332.1 429.7 L332.6 428.2 L333.1 427.2 L333.6 425.6 L334.0 424.0 L334.5 421.1 L336.2 420.1 L338.0 418.0 L339.7 417.7 L340.7 415.7 L341.7 414.2 L342.8 413.7 L343.8 412.9 L344.8 410.8 L346.5 409.1 L348.2 409.8 L350.0 411.2 L351.7 412.2 L353.4 412.5 L353.8 410.4 L354.2 409.1 L354.7 406.5 L355.1 406.3 L355.5 402.8 L355.9 403.5 L356.4 401.3 L356.8 398.8 L357.2 397.4 L357.6 394.8 L357.9 394.8 L358.3 393.2 L358.7 389.3 L359.1 389.3 L359.5 387.7 L359.9 385.5 L360.2 383.4 L360.4 382.3 L360.6 380.0 L360.7 379.6 L360.9 378.1 L361.1 375.0 L361.3 374.4 L361.4 371.8 L361.6 369.5 L361.8 368.3 L361.9 366.2 L362.1 366.6 L362.3 365.1 L362.5 361.2 L362.6 360.9 L362.8 358.7 L363.0 356.4 L363.1 355.2 L363.3 353.4 L363.5 353.1 L363.7 350.8 L363.9 347.8 L364.2 346.6 L364.5 345.5 L364.8 342.7 L365.0 342.6 L365.3 340.8 L365.6 339.7 L365.9 336.4 L366.1 334.9 L366.4 333.7 L366.9 335.5 L367.4 336.5 L367.8 339.1 L368.3 339.9 L368.8 342.3 L369.0 344.5 L369.1 346.5 L369.3 348.2 L369.5 350.4 L369.7 351.0 L369.8 352.5 L370.0 355.2 L370.2 356.7 L370.3 357.9 L370.5 359.4 L370.9 357.4 L371.3 355.4 L371.7 353.3 L372.1 353.4 L372.5 349.9 L372.9 349.8 L373.3 347.4 L374.1 345.8 L374.9 345.2 L375.7 342.3 L377.4 343.8 L379.1 345.1 L380.8 344.7 L381.8 345.0 L382.9 347.1 L383.9 348.6 L384.9 349.1 L385.9 350.8 L387.1 352.0 L388.2 352.8 L389.4 354.3 L390.8 355.5 L392.3 355.3 L393.8 357.7 L395.0 359.3 L396.2 361.1 L396.5 362.7 L396.8 364.1 L397.1 366.1 L397.4 368.8 L397.7 370.3 L398.0 371.5 L398.3 369.7 L398.6 368.2 L398.9 365.7 L399.2 363.4 L399.5 361.1 L399.8 360.5 L400.8 361.7 L401.9 364.0 L403.2 365.9 L404.6 367.4 L406.0 367.4 L407.4 365.3 L407.8 364.4 L408.3 361.7 L408.7 359.8 L409.3 359.4 L409.8 356.3 L410.3 355.6 L410.8 353.0 L412.9 353.0 L413.8 354.1 L414.7 356.4 L415.6 357.1 L417.0 356.6 L418.4 353.7 L421.1 354.3 L423.8 355.7 L425.6 355.6 L427.3 356.4 L427.8 357.1 L428.3 359.8 L428.8 361.1 L429.3 362.6 L432.1 361.9 L433.5 362.6 L434.8 364.0 L435.8 364.3 L436.7 366.9 L437.6 368.8 L438.3 370.3 L439.0 372.0 L439.6 374.9 L440.3 375.6 L441.2 374.0 L442.2 372.6 L443.1 370.1 L444.5 372.9 L445.8 373.6 L447.9 375.6 L448.4 374.6 L448.9 372.2 L449.4 371.1 L449.9 368.8 L451.0 371.2 L452.0 372.9 L453.4 372.2 L454.8 370.8 L456.1 372.9 L457.5 374.3 L458.9 375.0 L460.2 376.3 L462.3 378.4 L462.8 380.3 L463.2 381.9 L463.7 383.2 L463.9 386.0 L464.0 387.4 L464.2 389.2 L464.4 390.8 L464.5 392.6 L464.7 393.8 L464.9 394.8 L465.1 396.9 L465.3 394.5 L465.4 393.9 L465.6 392.6 L465.8 390.0 L466.0 387.2 L466.2 387.2 L466.4 384.6 L467.3 385.9 L468.1 387.3 L469.9 388.0 L471.9 385.9 L474.7 387.3 L475.4 385.7 L476.0 383.0 L476.7 382.7 L477.4 381.1 L478.8 380.4 L479.8 382.4 L480.9 383.2 L481.9 384.4 L482.9 385.9 L484.3 386.9 L485.7 388.7 L488.4 388.0 L491.2 387.3 L493.9 386.6 L496.6 388.0 L499.4 388.7 L500.8 388.1 L502.1 386.6 L503.5 384.3 L504.9 384.6 L505.8 383.0 L506.7 382.5 L507.6 379.8 L510.4 380.4 L513.1 381.1 L514.0 383.2 L515.0 384.1 L515.9 385.9 L516.9 388.5 L517.9 390.1 L519.0 389.0 L520.0 387.3 L522.7 388.0 L525.5 387.3 L528.2 385.9 L529.6 383.8 L531.0 383.2 L531.9 380.6 L532.8 380.5 L533.7 377.7 L534.2 375.0 L534.7 372.5 L535.1 371.5 L535.6 374.0 L536.0 374.8 L536.5 376.3 L539.2 374.9 L540.6 373.2 L542.0 372.2 L542.5 370.7 L543.0 369.7 L543.5 366.7 L544.0 366.0 L546.1 364.6 L547.5 366.1 L548.8 366.7 L550.9 366.7 L551.9 368.6 L553.0 369.5 L555.7 370.8 L557.8 371.5 L558.8 370.6 L559.8 368.1 L561.9 366.7 L564.0 368.8 L566.0 367.8 L568.1 368.1 L570.1 367.7 L572.2 366.7 L574.3 365.3 L576.3 365.3 L578.0 365.5 L579.8 365.3 L582.5 364.6 L583.2 362.2 L583.9 362.2 L584.6 359.8 L585.6 358.7 L586.6 355.7 L587.0 353.6 L587.4 351.7 L587.9 352.0 L588.3 349.7 L588.7 347.5 L589.0 350.1 L589.4 349.7 L589.7 353.7 L590.1 354.3 L591.4 351.6 L593.2 350.7 L594.8 351.6 L596.4 351.3 L598.0 352.3 L599.5 354.7 L601.5 354.3 L603.5 355.0 L605.5 354.8 L607.5 353.9 L609.1 352.9 L610.7 353.8 L612.3 352.4 L613.9 353.1 L615.5 353.8 L617.1 351.9 L618.6 351.5 L620.2 351.4 L621.8 349.1 L623.4 349.4 L625.0 348.9 L626.6 348.3 L628.5 346.9 L630.3 346.8 L632.2 345.9 L632.7 343.4 L633.2 341.8 L633.8 341.7 L634.3 339.2 L634.8 338.6 L635.3 336.4 L635.7 337.3 L636.1 340.1 L636.5 341.7 L636.9 342.7 L639.3 341.2 L640.5 339.5 L641.7 337.7 L642.9 337.3 L644.1 336.4 L645.7 334.8 L647.3 333.2 L648.9 330.6 L650.5 330.0 L651.7 330.4 L652.9 332.4 L653.4 333.0 L654.0 336.2 L654.6 338.8 L655.2 339.6 L655.8 337.2 L656.4 335.2 L657.0 335.3 L657.6 333.2 L659.2 333.2 L660.8 331.6 L661.6 331.2 L662.4 328.7 L663.2 326.4 L664.0 325.2 L664.6 324.5 L665.3 321.1 L665.9 321.0 L666.5 317.8 L667.2 317.3 L667.6 315.4 L668.1 314.1 L668.6 312.2 L669.1 310.1 L669.6 309.3 L670.4 310.2 L671.2 312.5 L671.5 311.8 L671.8 309.2 L672.2 307.9 L672.5 305.4 L672.9 305.1 L673.2 302.5 L673.5 301.4 L674.6 303.2 L675.7 305.6 L676.7 306.2 L678.7 307.8 L680.7 306.9 L681.0 307.5 L681.3 311.2 L681.7 313.1 L682.0 313.5 L682.3 315.7 L682.5 313.7 L682.7 312.5 L683.0 311.7 L683.2 308.6 L683.4 308.2 L683.7 306.1 L683.9 303.8 L686.3 303.0 L686.6 300.5 L687.0 300.9 L687.3 296.9 L687.7 295.7 L688.0 295.4 L688.4 292.3 L688.7 291.5 L689.1 289.3 L689.4 288.6 L690.8 287.2 L692.1 286.9 L693.4 284.7 L695.0 287.1 L695.3 289.7 L695.5 289.0 L695.8 290.7 L696.1 294.3 L696.3 293.8 L696.6 296.6 L697.4 294.4 L698.2 292.4 L699.0 290.8 L699.8 290.2 L700.3 287.4 L700.7 287.4 L701.2 286.1 L701.7 284.4 L702.2 282.3 L703.0 281.3 L703.8 279.0 L704.6 276.7 L706.2 276.0 L707.7 275.9 L708.3 274.7 L708.8 274.0 L709.3 271.1 L709.7 273.1 L710.1 273.7 L710.5 274.8 L710.9 277.5 L711.2 277.0 L711.6 274.6 L711.9 272.3 L712.2 271.4 L712.5 269.6 L712.9 268.1 L713.3 266.4 L713.7 263.6 L714.1 262.8 L714.5 261.4 L714.9 259.2 L715.3 259.4 L715.7 256.8 L715.9 255.0 L716.1 254.1 L716.2 252.6 L716.4 251.1 L716.6 249.4 L716.8 247.9 L716.9 245.0 L717.1 245.3 L717.3 242.5 L717.7 240.0 L718.1 240.4 L718.5 238.7 L718.9 236.1 L719.1 238.6 L719.3 238.2 L719.6 239.8 L719.8 243.3 L720.0 244.0 L720.3 245.3 L720.5 247.3 L722.1 247.3 L722.7 246.9 L723.3 242.9 L723.9 242.6 L724.5 240.9 L724.8 242.4 L725.1 243.1 L725.5 245.4 L725.8 247.8 L726.2 249.9 L726.5 249.2 L726.8 252.1 L727.6 253.7 L728.4 254.2 L729.2 256.8 L729.4 259.3 L729.6 259.1 L729.8 260.7 L729.9 263.2 L730.1 265.8 L730.3 266.4 L730.5 267.6 L730.6 271.0 L730.8 271.9 L731.1 271.0 L731.4 269.4 L731.6 266.3 L731.9 264.8 L732.1 262.7 L732.4 261.6 L733.2 259.9 L734.0 257.4 L734.8 256.0 L737.2 254.4 L737.7 255.8 L738.1 258.7 L738.6 260.9 L739.1 261.7 L739.6 263.2 L742.0 264.8 L742.6 265.3 L743.2 268.4 L743.9 269.4 L744.5 272.4 L745.1 272.7 L745.7 271.7 L746.3 270.4 L746.9 268.5 L747.5 266.4 L748.6 264.9 L749.6 264.2 L750.7 261.6 L753.1 260.8 L753.9 263.3 L754.7 263.4 L755.5 264.7 L756.3 267.2 L758.7 268.8 L759.9 270.4 L761.1 272.7 L762.2 274.4 L763.4 275.9 L765.8 275.1 L768.2 273.5 L768.8 270.9 L769.5 269.9 L770.1 269.0 L770.8 266.0 L771.4 265.6 L773.0 268.0 L773.6 270.6 L774.2 271.9 L774.8 272.8 L775.4 275.1 L777.0 273.8 L778.6 273.5 L779.7 271.6 L780.9 270.3 L781.7 271.5 L782.5 274.2 L783.3 275.1 L785.5 273.3 L787.6 274.3 L789.6 275.3 L791.7 275.1 L793.7 274.6 L795.5 273.7 L797.2 274.6 L797.7 277.6 L798.2 278.0 L798.7 279.9 L799.2 282.2 L799.5 282.7 L799.8 286.7 L800.1 287.1 L800.3 289.9 L800.6 290.4 L802.0 292.5 L804.0 294.6 L804.7 297.7 L805.4 298.7 L805.8 298.0 L806.1 295.7 L806.4 294.1 L806.8 291.1 L808.8 293.2 L809.9 292.9 L810.9 290.4 L811.9 293.3 L813.0 294.6 L815.0 294.6 L817.1 296.6 L818.5 295.0 L819.8 293.2 L820.9 292.0 L821.9 290.4 L823.3 292.8 L824.6 292.5 L826.4 292.2 L828.1 290.4 L830.1 290.4 L830.5 289.3 L831.0 287.8 L831.4 285.1 L831.8 285.0 L832.2 282.2 L834.9 280.8 L837.7 281.5 L838.1 280.2 L838.5 277.9 L838.9 276.4 L839.3 276.1 L839.7 273.3 L840.0 270.6 L840.4 269.8 L841.1 266.9 L841.8 265.7 L843.2 265.2 L844.6 263.7 L845.5 265.2 L846.4 267.5 L847.3 267.8 L847.8 265.2 L848.3 264.1 L848.9 263.2 L849.4 260.9 L849.7 258.1 L850.1 256.7 L850.4 256.2 L850.7 253.9 L851.1 251.9 L851.4 251.3 L852.5 252.7 L853.5 255.4 L854.9 252.7 L855.3 255.1 L855.8 256.9 L856.2 258.8 L858.3 260.9 L859.7 259.5 L860.2 256.9 L860.7 255.3 L861.2 255.8 L861.7 253.4 L862.8 255.8 L863.8 257.5 L865.9 258.8 L867.9 258.2 L869.3 257.5 L870.7 257.7 L872.0 259.5 L872.4 262.2 L872.7 261.7 L873.1 264.3 L873.4 266.4 L876.2 265.7 L878.2 267.1 L879.6 269.8 L879.9 269.1 L880.1 267.1 L880.4 264.3 L880.7 264.3 L881.0 261.6 L883.0 261.6 L884.1 263.2 L885.1 264.3 L885.6 266.8 L886.1 268.5 L886.6 268.8 L887.1 270.5 L889.9 269.8 L891.3 271.7 L892.6 272.6 L893.7 271.3 L894.7 269.8 L896.8 270.5 L897.4 270.0 L898.1 267.9 L898.8 266.0 L899.5 263.7 L902.3 263.0 L903.6 262.4 L905.0 260.2 L907.1 258.8 L908.4 261.2 L909.8 260.9 L910.8 261.6 L911.9 263.7 L912.1 264.8 L912.4 268.1 L912.7 270.0 L913.0 271.2 L913.0 272.9 L913.1 274.5 L913.2 276.0 L913.3 278.9 L913.4 280.3 L913.4 281.4 L913.5 282.9 L914.0 279.8 L914.4 280.0 L914.9 277.1 L915.3 275.3 L917.4 274.0 L918.4 271.8 L919.4 271.2 L921.5 271.9 L923.5 271.2 L924.1 269.0 L924.6 268.3 L925.1 264.8 L925.6 264.3 L926.3 261.3 L927.0 260.2 L929.0 262.3 L930.4 260.4 L931.8 259.5 L934.5 260.9 L936.2 262.6 L938.0 262.3 L940.7 263.0 L942.4 263.3 L944.1 262.3 L944.7 261.6 L945.2 258.6 L945.7 256.8 L946.2 254.7 L949.0 254.0 L951.7 253.4 L954.5 254.7 L955.1 256.9 L955.8 258.8 L957.2 257.9 L958.6 256.8 L961.3 258.2 L962.7 257.2 L964.1 256.1 L965.0 255.1 L965.9 253.6 L966.8 250.6 L967.7 248.8 L968.6 247.7 L969.6 245.8 L970.5 243.7 L971.4 242.1 L972.3 241.0 L973.4 239.5 L974.4 238.3 L975.5 236.6 L978.2 238.0 L978.8 236.3 L979.3 235.7 L979.9 231.8 L980.4 231.2 L981.0 229.1 L981.7 228.5 L982.4 226.0 L983.0 223.6 L983.3 222.0 L983.6 219.7 L983.9 218.0 L984.2 217.6 L984.5 215.8 L984.8 213.4 L985.1 211.2 L986.1 213.6 L987.2 214.0 L987.7 216.8 L988.2 218.3 L988.7 218.8 L989.2 220.8 L989.6 219.2 L990.0 218.5 L990.4 215.8 L990.8 215.2 L991.2 212.9 L991.6 211.0 L992.0 209.8 L992.7 207.9 L993.4 205.2 L994.0 204.3 L994.7 202.4 L995.4 200.9 L996.1 199.5 L996.4 200.2 L996.8 202.5 L997.1 204.6 L997.5 207.1 L997.9 206.4 L998.4 204.1 L998.8 201.7 L999.3 202.0 L999.8 198.4 L1000.2 197.5 L1001.1 199.3 L1002.1 201.8 L1003.0 203.0 L1004.0 201.4 L1005.0 198.8 L1006.4 197.6 L1007.8 196.8 L1008.3 199.2 L1008.8 200.2 L1009.3 202.5 L1009.8 203.7 L1010.8 202.0 L1011.7 201.7 L1012.6 198.8 L1014.6 200.2 L1014.9 202.5 L1015.2 202.6 L1015.4 204.4 L1015.7 208.3 L1015.9 208.1 L1016.2 209.3 L1016.4 211.6 L1016.7 214.0 L1018.1 215.3 L1019.5 216.7 L1020.4 216.0 L1021.3 212.8 L1022.2 211.2 L1022.7 213.7 L1023.2 215.9 L1023.7 215.8 L1024.3 218.8 L1026.0 219.1 L1027.7 218.8 L1029.4 221.4 L1031.1 221.5 L1031.5 219.9 L1031.8 218.2 L1032.2 216.0 L1032.5 215.8 L1032.8 214.1 L1033.2 211.2 L1034.1 208.8 L1035.0 208.6 L1035.9 207.1 L1037.7 205.8 L1039.4 205.0 L1041.1 204.8 L1042.8 203.7 L1043.8 204.4 L1044.9 207.1 L1045.8 207.9 L1046.7 209.3 L1047.6 211.2 L1048.0 209.6 L1048.3 208.8 L1048.6 207.3 L1049.0 205.5 L1049.3 203.7 L1049.7 201.6 L1050.4 199.0 L1051.0 198.2 L1051.7 197.4 L1052.4 195.4 L1053.8 195.9 L1055.2 197.5 L1056.5 196.1 L1057.9 194.7 L1058.8 197.4 L1059.7 196.9 L1060.7 199.5 L1062.0 201.5 L1063.4 201.6 L1064.3 201.9 L1065.2 204.0 L1066.2 205.7 L1068.9 205.0 L1071.0 207.1 L1072.0 209.5 L1073.0 209.8 L1075.1 211.2 L1075.3 212.0 L1075.5 214.5 L1075.8 216.0 L1076.7 214.2 L1077.6 213.8 L1078.5 211.2 L1080.6 209.1 L1081.3 212.0 L1082.0 211.8 L1082.6 214.0 L1084.0 212.6 L1085.4 211.2 L1087.4 212.6 L1088.5 211.9 L1089.5 209.1 L1090.5 207.9 L1091.6 206.4 L1092.6 207.7 L1093.6 210.5 L1095.0 212.2 L1096.4 212.6 L1099.1 214.0 L1099.6 215.4 L1100.2 217.7 L1100.7 218.3 L1101.2 221.5 L1102.9 223.5 L1104.6 222.9 L1106.7 220.8 L1107.7 223.3 L1108.7 224.9 L1108.9 227.7 L1109.1 229.5 L1109.3 229.3 L1109.5 231.7 L1109.7 233.1 L1109.9 235.6 L1110.1 236.6 L1112.9 235.2 L1115.6 235.2 L1116.3 234.5 L1117.0 231.3 L1117.7 230.4 L1119.4 229.9 L1121.1 230.4 L1123.8 229.1 L1124.8 231.4 L1125.7 232.5 L1126.6 234.6 L1129.3 235.9 L1130.7 236.0 L1132.1 238.0 L1134.1 236.5 L1136.2 236.6 L1139.0 238.0 L1140.3 237.1 L1141.7 235.9 L1143.1 234.8 L1144.5 233.2 L1144.6 236.0 L1144.7 236.5 L1144.8 238.3 L1144.9 238.7 L1145.0 241.0 L1145.1 242.8 L1146.9 241.9 L1148.6 242.1 L1151.3 241.4 L1154.1 240.7 L1156.1 241.6 L1158.2 241.4 L1158.9 239.1 L1159.6 237.3 L1160.2 235.9 L1160.9 234.6 L1162.2 233.0 L1163.5 231.2 L1164.8 230.5 L1166.1 228.8 L1168.0 229.1 L1169.8 231.2 L1171.6 233.4 L1173.5 233.6 L1174.0 232.4 L1174.4 230.3 L1174.9 227.4 L1175.4 226.3 L1175.9 225.1 L1177.7 224.3 L1179.6 222.6 L1181.4 223.0 L1183.3 222.6 L1185.1 224.7 L1186.9 225.1 L1188.6 226.1 L1190.2 224.6 L1191.8 225.1 L1193.5 225.5 L1195.1 225.5 L1196.7 226.3 L1197.5 223.7 L1198.4 222.1 L1199.2 221.4 L1200.8 220.8 L1202.4 220.3 L1204.1 221.4 L1205.7 221.9 L1207.3 222.8 L1209.0 222.6 L1210.2 224.0 L1211.4 225.6 L1212.6 226.3 L1214.3 225.6 L1215.9 225.5 L1217.5 226.3 L1219.2 226.1 L1220.8 226.5 L1222.4 225.1 L1224.3 224.3 L1226.1 223.9 L1226.7 220.7 L1227.3 218.9 L1227.9 217.8 L1228.5 216.5 L1230.2 216.0 L1231.8 213.8 L1233.4 214.1 L1235.3 212.7 L1237.1 212.8 L1238.3 211.5 L1239.6 209.2 L1241.2 210.0 L1242.8 207.9 L1244.5 207.9 L1246.9 206.7 L1247.7 208.6 L1248.5 210.0 L1249.4 211.6 L1250.6 208.7 L1251.8 207.9 L1253.0 206.7 L1253.8 204.2 L1254.7 202.8 L1255.5 201.8 L1256.2 201.1 L1256.9 199.4 L1257.7 196.2 L1258.4 194.8 L1259.1 194.5 L1260.4 193.8 L1261.6 192.0 L1263.4 192.2 L1265.3 194.5 L1267.1 194.0 L1268.9 194.5 L1270.8 195.1 L1272.6 196.9 L1274.2 194.9 L1275.9 194.1 L1277.5 194.5 L1279.1 193.5 L1280.8 194.2 L1282.4 194.5 L1284.2 196.8 L1286.1 196.9 L1287.9 198.5 L1289.7 199.4 L1290.7 197.2 L1291.6 196.8 L1292.5 194.2 L1293.4 193.3 L1294.0 195.1 L1294.6 196.5 L1295.3 199.9 L1295.9 200.6 L1297.5 199.4 L1299.1 199.8 L1300.8 198.2 L1302.6 199.1 L1304.4 199.4 L1305.7 199.0 L1306.9 197.2 L1308.1 196.7 L1309.3 194.5 L1311.0 193.8 L1312.6 194.1 L1314.2 193.3 L1316.1 192.3 L1317.9 190.8 L1318.5 189.0 L1319.1 187.3 L1319.7 185.4 L1320.3 183.5 L1322.2 182.0 L1324.0 181.0 L1325.6 182.1 L1327.3 181.4 L1328.9 181.0 L1330.7 181.8 L1332.6 182.2 L1334.4 179.9 L1336.3 179.8 L1337.9 180.6 L1339.5 180.6 L1341.2 182.2 L1343.0 182.7 L1344.8 184.7 L1346.3 186.4 L1347.8 188.4" fill="none" stroke="#000" stroke-width="2.2" stroke-linejoin="round"/>
<line x1="337.6" y1="451.5" x2="385.5" y2="395.9" stroke="#1fd63c" stroke-width="5" stroke-dasharray="5 4"/><polygon points="381.2,387.6 395.2,384.4 393.7,398.9" fill="#1fd63c" stroke="#1fd63c" stroke-width="2" stroke-linejoin="round"/><line x1="677.1" y1="344.9" x2="717.3" y2="295.0" stroke="#1fd63c" stroke-width="5" stroke-dasharray="5 4"/><polygon points="715.1,283.2 729.4,279.9 728.8,293.1" fill="#1fd63c" stroke="#1fd63c" stroke-width="2" stroke-linejoin="round"/><line x1="925.9" y1="294.3" x2="1044.7" y2="225.6" stroke="#1fd63c" stroke-width="5" stroke-dasharray="5 4"/><polygon points="1042.7,218.2 1058.1,219.5 1051.4,232.3" fill="#1fd63c" stroke="#1fd63c" stroke-width="2" stroke-linejoin="round"/><line x1="1162.1" y1="259.0" x2="1316.9" y2="204.7" stroke="#1fd63c" stroke-width="5" stroke-dasharray="5 4"/><polygon points="1321.0,194.4 1335.4,198.5 1327.2,209.5" fill="#1fd63c" stroke="#1fd63c" stroke-width="2" stroke-linejoin="round"/>
<line x1="81.7" y1="698.3" x2="1372.5" y2="698.3" stroke="#111" stroke-width="1.8"/>
<line x1="1371.7" y1="151.7" x2="1371.7" y2="698.8" stroke="#444" stroke-width="1.8"/>
<g font-size="14" fill="#1a1a1a"><text x="80" y="172.8" text-anchor="end">115</text><text x="80" y="232.5" text-anchor="end">110</text><text x="80" y="292.2" text-anchor="end">105</text><text x="80" y="352.0" text-anchor="end">100</text><text x="80" y="411.7" text-anchor="end">95</text><text x="80" y="471.4" text-anchor="end">90</text><text x="80" y="531.1" text-anchor="end">85</text><text x="80" y="590.8" text-anchor="end">80</text><text x="80" y="650.6" text-anchor="end">75</text><text x="1375.3" y="185.8">$100k</text><text x="1375.3" y="264.5">$10k</text><text x="1375.3" y="343.2">$1k</text><text x="1375.3" y="422.0">$100</text><text x="1375.3" y="579.4">$1</text><text x="200.7" y="714.5" text-anchor="middle">2012</text><text x="374.6" y="714.5" text-anchor="middle">2014</text><text x="548.5" y="714.5" text-anchor="middle">2016</text><text x="722.3" y="714.5" text-anchor="middle">2018</text><text x="896.2" y="714.5" text-anchor="middle">2020</text><text x="1070.1" y="714.5" text-anchor="middle">2022</text><text x="1244.0" y="714.5" text-anchor="middle">2024</text></g>
<text transform="translate(43.3,424.8) rotate(-90)" text-anchor="middle" font-size="16.5" fill="#1a1a1a" textLength="164" lengthAdjust="spacingAndGlyphs">US Dollar Index (DXY)</text>
<text transform="translate(1424,424.4) rotate(-90)" text-anchor="middle" font-size="16" fill="#1a1a1a" textLength="117.5" lengthAdjust="spacingAndGlyphs">BTC Price (USD)</text>
<line x1="87" y1="768.3" x2="117.5" y2="768.3" stroke="#000" stroke-width="2"/>
<text x="123.5" y="773" font-size="13" fill="#222">BTC</text>
<line x1="161.5" y1="768.3" x2="192.5" y2="768.3" stroke="#9f1ce8" stroke-width="2"/>
<text x="198" y="773" font-size="13" fill="#222">DXY</text>
<text x="1429.6" y="812.4" text-anchor="end" font-size="15.5" fill="#333" textLength="208" lengthAdjust="spacingAndGlyphs">© 2025 Bitcoin Magazine Pro.</text>
<g font-size="31" fill="#1a1a1a">
<text x="182" y="113.4" textLength="670.5" lengthAdjust="spacingAndGlyphs">Bitcoin typically outperforms when US Dollar</text>
<text x="225.5" y="157.4" textLength="586.5" lengthAdjust="spacingAndGlyphs">Strength is decreasing, and has limited</text>
<text x="208" y="201.7" textLength="620.5" lengthAdjust="spacingAndGlyphs">upside potential whilst the DXY is rallying</text>
</g>
</svg>
</body></html>
